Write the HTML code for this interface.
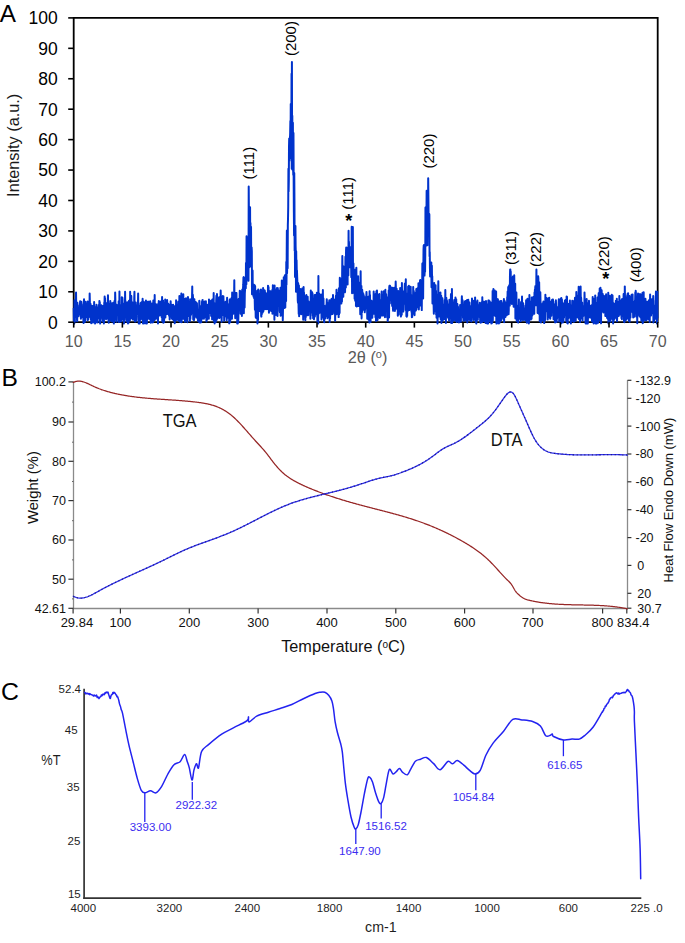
<!DOCTYPE html>
<html><head><meta charset="utf-8"><style>
html,body{margin:0;padding:0;background:#fff;overflow:hidden;}
svg{display:block;font-family:"Liberation Sans",sans-serif;}
</style></head><body>
<svg width="685" height="943" viewBox="0 0 685 943">
<rect width="685" height="943" fill="#fff"/>
<path d="M73.7,17.9 L657.7,17.9 L657.7,322.2 L73.7,322.2 Z" fill="none" stroke="#000" stroke-width="1.8"/>
<path d="M73.70,307.86 L73.89,320.51 L74.09,323.41 L74.28,323.57 L74.48,300.33 L74.67,318.57 L74.87,321.52 L75.06,308.40 L75.26,317.12 L75.45,301.26 L75.65,307.94 L75.84,302.89 L76.04,292.45 L76.23,306.35 L76.43,312.99 L76.62,313.78 L76.81,304.92 L77.01,319.32 L77.20,321.29 L77.40,302.75 L77.59,314.42 L77.79,310.92 L77.98,313.75 L78.18,307.93 L78.37,308.03 L78.57,316.23 L78.76,307.78 L78.96,314.88 L79.15,310.82 L79.35,312.27 L79.54,305.24 L79.73,313.68 L79.93,304.82 L80.12,301.18 L80.32,310.04 L80.51,304.28 L80.71,302.82 L80.90,318.75 L81.10,313.17 L81.29,301.82 L81.49,305.69 L81.68,304.13 L81.88,309.89 L82.07,314.19 L82.27,306.35 L82.46,315.03 L82.65,310.44 L82.85,317.44 L83.04,314.10 L83.24,313.15 L83.43,321.47 L83.63,323.08 L83.82,301.89 L84.02,299.22 L84.21,321.39 L84.41,315.18 L84.60,307.89 L84.80,319.94 L84.99,321.85 L85.19,303.39 L85.38,316.91 L85.57,301.76 L85.77,311.54 L85.96,309.92 L86.16,311.05 L86.35,311.79 L86.55,317.11 L86.74,308.92 L86.94,313.46 L87.13,303.52 L87.33,317.46 L87.52,320.23 L87.72,301.42 L87.91,311.01 L88.11,319.66 L88.30,304.29 L88.49,317.68 L88.69,306.32 L88.88,307.83 L89.08,316.83 L89.27,308.84 L89.47,312.24 L89.66,293.47 L89.86,301.69 L90.05,316.74 L90.25,314.46 L90.44,303.65 L90.64,307.05 L90.83,319.55 L91.03,309.04 L91.22,323.21 L91.41,305.54 L91.61,309.04 L91.80,307.62 L92.00,310.25 L92.19,315.28 L92.39,308.12 L92.58,312.94 L92.78,305.97 L92.97,322.44 L93.17,317.10 L93.36,319.71 L93.56,311.73 L93.75,309.54 L93.95,318.05 L94.14,301.96 L94.33,314.57 L94.53,322.38 L94.72,306.94 L94.92,321.69 L95.11,323.57 L95.31,317.60 L95.50,312.69 L95.70,318.53 L95.89,317.09 L96.09,322.14 L96.28,315.71 L96.48,304.76 L96.67,316.35 L96.87,310.04 L97.06,319.15 L97.25,320.75 L97.45,315.89 L97.64,322.53 L97.84,312.61 L98.03,307.17 L98.23,313.90 L98.42,318.12 L98.62,315.66 L98.81,304.98 L99.01,317.08 L99.20,315.41 L99.40,300.88 L99.59,317.51 L99.79,302.19 L99.98,320.66 L100.17,323.57 L100.37,313.89 L100.56,310.90 L100.76,310.23 L100.95,315.99 L101.15,306.19 L101.34,305.24 L101.54,312.19 L101.73,306.12 L101.93,306.85 L102.12,317.60 L102.32,318.59 L102.51,319.74 L102.71,321.28 L102.90,305.90 L103.09,314.40 L103.29,320.40 L103.48,310.64 L103.68,317.89 L103.87,323.57 L104.07,314.44 L104.26,302.52 L104.46,305.75 L104.65,296.49 L104.85,312.72 L105.04,298.35 L105.24,315.17 L105.43,312.19 L105.63,306.13 L105.82,312.88 L106.01,319.24 L106.21,307.62 L106.40,303.33 L106.60,315.04 L106.79,313.78 L106.99,316.52 L107.18,307.39 L107.38,312.14 L107.57,318.49 L107.77,302.32 L107.96,295.35 L108.16,304.29 L108.35,303.49 L108.55,320.56 L108.74,322.68 L108.93,308.75 L109.13,310.19 L109.32,318.99 L109.52,313.32 L109.71,320.29 L109.91,313.61 L110.10,311.46 L110.30,301.03 L110.49,314.45 L110.69,319.10 L110.88,303.05 L111.08,309.15 L111.27,318.59 L111.47,321.22 L111.66,314.39 L111.85,317.66 L112.05,314.77 L112.24,316.37 L112.44,303.22 L112.63,304.97 L112.83,307.71 L113.02,321.37 L113.22,304.37 L113.41,314.58 L113.61,302.60 L113.80,323.57 L114.00,321.65 L114.19,321.21 L114.39,303.92 L114.58,300.84 L114.77,306.54 L114.97,316.22 L115.16,292.55 L115.36,300.25 L115.55,319.79 L115.75,303.93 L115.94,312.64 L116.14,315.94 L116.33,314.30 L116.53,321.64 L116.72,320.03 L116.92,305.10 L117.11,312.82 L117.31,309.24 L117.50,314.37 L117.69,312.19 L117.89,307.72 L118.08,309.14 L118.28,313.87 L118.47,312.79 L118.67,301.19 L118.86,322.04 L119.06,314.27 L119.25,321.31 L119.45,291.49 L119.64,321.82 L119.84,305.88 L120.03,312.82 L120.23,311.02 L120.42,316.12 L120.61,314.12 L120.81,312.89 L121.00,304.93 L121.20,321.39 L121.39,318.96 L121.59,319.81 L121.78,297.27 L121.98,312.58 L122.17,306.63 L122.37,297.58 L122.56,299.81 L122.76,319.60 L122.95,314.80 L123.15,311.04 L123.34,303.52 L123.53,311.59 L123.73,321.74 L123.92,323.57 L124.12,316.67 L124.31,309.22 L124.51,320.00 L124.70,313.12 L124.90,314.70 L125.09,291.74 L125.29,307.22 L125.48,301.06 L125.68,311.53 L125.87,312.14 L126.07,302.50 L126.26,313.69 L126.45,310.84 L126.65,321.48 L126.84,318.50 L127.04,316.48 L127.23,317.33 L127.43,313.36 L127.62,302.14 L127.82,319.55 L128.01,323.57 L128.21,310.31 L128.40,315.30 L128.60,322.69 L128.79,305.44 L128.99,300.70 L129.18,306.08 L129.37,304.71 L129.57,305.95 L129.76,301.00 L129.96,320.35 L130.15,291.87 L130.35,307.76 L130.54,302.07 L130.74,304.42 L130.93,310.93 L131.13,308.84 L131.32,295.90 L131.52,315.22 L131.71,318.28 L131.91,313.93 L132.10,304.33 L132.29,315.49 L132.49,302.49 L132.68,319.43 L132.88,308.22 L133.07,318.03 L133.27,308.81 L133.46,305.35 L133.66,304.94 L133.85,306.15 L134.05,319.38 L134.24,298.26 L134.44,291.78 L134.63,311.78 L134.83,321.37 L135.02,313.42 L135.21,307.87 L135.41,321.47 L135.60,309.64 L135.80,302.46 L135.99,311.37 L136.19,316.35 L136.38,320.19 L136.58,312.83 L136.77,314.53 L136.97,307.57 L137.16,306.37 L137.36,307.21 L137.55,305.23 L137.75,305.01 L137.94,306.65 L138.13,293.49 L138.33,309.82 L138.52,315.05 L138.72,323.57 L138.91,308.00 L139.11,321.80 L139.30,306.74 L139.50,310.91 L139.69,323.42 L139.89,313.97 L140.08,310.77 L140.28,317.55 L140.47,304.04 L140.67,302.91 L140.86,319.50 L141.05,307.88 L141.25,313.38 L141.44,304.75 L141.64,302.02 L141.83,311.92 L142.03,308.77 L142.22,314.98 L142.42,307.91 L142.61,298.79 L142.81,316.49 L143.00,323.57 L143.20,301.51 L143.39,323.57 L143.59,307.01 L143.78,309.79 L143.97,314.28 L144.17,302.22 L144.36,319.14 L144.56,317.40 L144.75,304.32 L144.95,323.19 L145.14,317.47 L145.34,319.22 L145.53,313.71 L145.73,306.65 L145.92,300.57 L146.12,318.35 L146.31,323.57 L146.51,306.14 L146.70,301.50 L146.89,323.57 L147.09,308.92 L147.28,309.41 L147.48,310.53 L147.67,308.92 L147.87,317.33 L148.06,301.87 L148.26,318.64 L148.45,301.82 L148.65,302.56 L148.84,305.25 L149.04,314.50 L149.23,302.61 L149.43,317.97 L149.62,312.09 L149.81,311.82 L150.01,319.46 L150.20,301.16 L150.40,319.63 L150.59,312.38 L150.79,322.71 L150.98,317.61 L151.18,303.42 L151.37,307.28 L151.57,315.46 L151.76,308.22 L151.96,319.43 L152.15,308.38 L152.35,303.15 L152.54,322.59 L152.73,316.37 L152.93,317.60 L153.12,322.14 L153.32,300.54 L153.51,306.58 L153.71,308.65 L153.90,308.89 L154.10,307.32 L154.29,318.02 L154.49,319.91 L154.68,295.04 L154.88,319.54 L155.07,317.83 L155.27,305.98 L155.46,315.29 L155.65,313.93 L155.85,307.89 L156.04,304.15 L156.24,318.38 L156.43,310.41 L156.63,313.69 L156.82,318.18 L157.02,315.66 L157.21,305.09 L157.41,317.31 L157.60,310.51 L157.80,312.95 L157.99,323.55 L158.19,303.95 L158.38,303.58 L158.57,305.05 L158.77,301.12 L158.96,313.29 L159.16,308.27 L159.35,301.87 L159.55,311.92 L159.74,315.56 L159.94,312.41 L160.13,310.30 L160.33,308.85 L160.52,301.73 L160.72,310.14 L160.91,304.12 L161.11,312.58 L161.30,313.10 L161.49,301.22 L161.69,317.27 L161.88,316.89 L162.08,296.98 L162.27,321.22 L162.47,320.08 L162.66,311.51 L162.86,308.37 L163.05,300.42 L163.25,321.10 L163.44,322.78 L163.64,308.14 L163.83,302.72 L164.03,322.18 L164.22,317.08 L164.41,307.63 L164.61,308.58 L164.80,303.97 L165.00,308.18 L165.19,299.54 L165.39,317.47 L165.58,305.78 L165.78,309.49 L165.97,314.45 L166.17,306.75 L166.36,302.74 L166.56,310.00 L166.75,306.85 L166.95,313.87 L167.14,299.89 L167.33,314.08 L167.53,309.45 L167.72,309.97 L167.92,311.65 L168.11,303.51 L168.31,308.24 L168.50,310.20 L168.70,307.47 L168.89,307.61 L169.09,315.78 L169.28,316.09 L169.48,309.25 L169.67,319.48 L169.87,304.59 L170.06,305.44 L170.25,308.45 L170.45,316.03 L170.64,301.24 L170.84,306.86 L171.03,304.57 L171.23,307.00 L171.42,310.62 L171.62,316.02 L171.81,318.42 L172.01,305.11 L172.20,309.07 L172.40,318.49 L172.59,319.38 L172.79,312.15 L172.98,308.35 L173.17,304.85 L173.37,312.31 L173.56,317.79 L173.76,307.22 L173.95,320.42 L174.15,319.48 L174.34,314.55 L174.54,310.33 L174.73,323.17 L174.93,320.51 L175.12,306.08 L175.32,313.70 L175.51,312.85 L175.71,312.24 L175.90,319.17 L176.09,300.34 L176.29,301.88 L176.48,308.61 L176.68,320.03 L176.87,307.33 L177.07,304.68 L177.26,314.84 L177.46,319.37 L177.65,306.25 L177.85,308.15 L178.04,313.77 L178.24,315.60 L178.43,301.47 L178.63,320.85 L178.82,315.38 L179.01,311.37 L179.21,308.80 L179.40,296.10 L179.60,308.49 L179.79,320.61 L179.99,309.77 L180.18,321.95 L180.38,313.64 L180.57,303.99 L180.77,319.53 L180.96,320.26 L181.16,297.79 L181.35,293.60 L181.55,322.35 L181.74,311.98 L181.93,316.24 L182.13,300.82 L182.32,300.49 L182.52,303.43 L182.71,305.26 L182.91,307.84 L183.10,318.81 L183.30,294.24 L183.49,311.30 L183.69,312.85 L183.88,308.09 L184.08,314.02 L184.27,298.84 L184.47,306.87 L184.66,302.55 L184.85,319.95 L185.05,321.82 L185.24,317.98 L185.44,317.65 L185.63,307.38 L185.83,304.96 L186.02,298.20 L186.22,319.20 L186.41,308.81 L186.61,304.73 L186.80,311.08 L187.00,320.76 L187.19,320.21 L187.39,322.24 L187.58,313.43 L187.77,316.52 L187.97,297.07 L188.16,305.93 L188.36,315.58 L188.55,305.94 L188.75,308.90 L188.94,301.88 L189.14,316.08 L189.33,312.95 L189.53,309.46 L189.72,308.93 L189.92,321.04 L190.11,299.28 L190.31,319.03 L190.50,310.58 L190.69,307.76 L190.89,311.36 L191.08,314.65 L191.28,303.34 L191.47,309.13 L191.67,304.28 L191.86,302.21 L192.06,296.89 L192.25,286.45 L192.45,312.74 L192.64,297.37 L192.84,294.68 L193.03,298.30 L193.23,319.38 L193.42,298.88 L193.61,306.44 L193.81,309.98 L194.00,320.16 L194.20,318.25 L194.39,299.23 L194.59,314.48 L194.78,311.36 L194.98,312.45 L195.17,313.24 L195.37,312.52 L195.56,315.96 L195.76,302.08 L195.95,310.69 L196.15,315.95 L196.34,317.49 L196.53,303.78 L196.73,304.23 L196.92,303.32 L197.12,309.01 L197.31,315.34 L197.51,318.24 L197.70,314.22 L197.90,320.72 L198.09,316.37 L198.29,315.25 L198.48,321.05 L198.68,320.42 L198.87,321.76 L199.07,314.00 L199.26,301.00 L199.45,300.90 L199.65,319.83 L199.84,309.07 L200.04,322.62 L200.23,307.10 L200.43,308.34 L200.62,310.85 L200.82,315.78 L201.01,311.94 L201.21,322.27 L201.40,308.05 L201.60,305.38 L201.79,318.04 L201.99,301.71 L202.18,318.65 L202.37,300.29 L202.57,299.94 L202.76,312.76 L202.96,302.68 L203.15,309.42 L203.35,316.41 L203.54,306.37 L203.74,313.96 L203.93,318.67 L204.13,304.54 L204.32,317.63 L204.52,301.52 L204.71,316.65 L204.91,314.36 L205.10,304.41 L205.29,304.25 L205.49,312.73 L205.68,308.09 L205.88,301.30 L206.07,315.76 L206.27,316.90 L206.46,321.53 L206.66,305.50 L206.85,305.08 L207.05,319.62 L207.24,304.90 L207.44,316.27 L207.63,309.94 L207.83,308.67 L208.02,308.04 L208.21,308.74 L208.41,312.94 L208.60,304.02 L208.80,318.78 L208.99,299.56 L209.19,313.45 L209.38,301.35 L209.58,306.57 L209.77,311.50 L209.97,310.62 L210.16,309.04 L210.36,312.32 L210.55,307.87 L210.75,310.30 L210.94,300.68 L211.13,315.87 L211.33,303.91 L211.52,311.45 L211.72,301.62 L211.91,301.88 L212.11,319.37 L212.30,299.41 L212.50,301.30 L212.69,305.38 L212.89,318.01 L213.08,298.91 L213.28,306.29 L213.47,316.70 L213.67,293.11 L213.86,321.10 L214.05,303.03 L214.25,318.56 L214.44,314.94 L214.64,323.57 L214.83,312.65 L215.03,305.26 L215.22,303.60 L215.42,311.44 L215.61,315.33 L215.81,321.88 L216.00,313.32 L216.20,300.82 L216.39,295.86 L216.59,297.13 L216.78,319.66 L216.97,294.00 L217.17,311.81 L217.36,307.04 L217.56,317.89 L217.75,317.88 L217.95,301.13 L218.14,297.70 L218.34,309.69 L218.53,301.21 L218.73,303.11 L218.92,302.11 L219.12,310.01 L219.31,297.28 L219.51,318.05 L219.70,314.59 L219.89,304.49 L220.09,314.39 L220.28,298.96 L220.48,299.81 L220.67,290.61 L220.87,298.12 L221.06,304.53 L221.26,316.34 L221.45,312.56 L221.65,321.67 L221.84,310.62 L222.04,304.12 L222.23,302.86 L222.43,301.77 L222.62,314.38 L222.81,296.05 L223.01,306.59 L223.20,314.88 L223.40,296.29 L223.59,302.78 L223.79,302.34 L223.98,304.83 L224.18,320.69 L224.37,306.54 L224.57,302.92 L224.76,304.18 L224.96,312.71 L225.15,308.07 L225.35,303.95 L225.54,301.78 L225.73,312.92 L225.93,306.04 L226.12,316.72 L226.32,315.57 L226.51,311.02 L226.71,320.29 L226.90,311.23 L227.10,297.70 L227.29,312.43 L227.49,316.42 L227.68,317.87 L227.88,306.31 L228.07,309.93 L228.27,304.56 L228.46,310.07 L228.65,306.90 L228.85,310.08 L229.04,313.85 L229.24,323.37 L229.43,314.55 L229.63,300.03 L229.82,312.28 L230.02,299.13 L230.21,321.92 L230.41,302.32 L230.60,300.37 L230.80,312.83 L230.99,310.21 L231.19,312.69 L231.38,309.23 L231.57,297.95 L231.77,302.50 L231.96,318.68 L232.16,292.41 L232.35,302.29 L232.55,299.85 L232.74,299.80 L232.94,296.78 L233.13,299.91 L233.33,313.83 L233.52,300.69 L233.72,303.07 L233.91,310.09 L234.11,295.58 L234.30,280.15 L234.49,307.50 L234.69,296.53 L234.88,306.76 L235.08,310.75 L235.27,318.26 L235.47,316.11 L235.66,314.40 L235.86,292.97 L236.05,305.95 L236.25,314.20 L236.44,292.89 L236.64,303.00 L236.83,315.53 L237.03,301.47 L237.22,323.57 L237.41,306.46 L237.61,306.33 L237.80,323.57 L238.00,301.32 L238.19,322.53 L238.39,317.49 L238.58,299.07 L238.78,309.85 L238.97,301.11 L239.17,305.93 L239.36,307.51 L239.56,304.69 L239.75,290.67 L239.95,292.90 L240.14,297.53 L240.33,301.71 L240.53,313.69 L240.72,300.02 L240.92,291.48 L241.11,293.97 L241.31,299.98 L241.50,303.86 L241.70,299.60 L241.89,315.94 L242.09,305.55 L242.28,289.42 L242.48,307.25 L242.67,309.92 L242.87,300.16 L243.06,287.81 L243.25,284.43 L243.45,277.46 L243.64,277.12 L243.84,313.35 L244.03,296.30 L244.23,289.97 L244.42,283.01 L244.62,307.43 L244.81,293.12 L245.01,290.54 L245.20,277.66 L245.40,285.28 L245.59,284.86 L245.79,288.24 L245.98,262.97 L246.17,278.77 L246.37,284.27 L246.56,236.27 L246.76,265.89 L246.95,269.50 L247.15,279.40 L247.34,248.04 L247.54,258.20 L247.73,237.84 L247.93,255.43 L248.12,241.84 L248.32,273.91 L248.51,280.85 L248.71,186.48 L248.90,209.72 L249.09,243.34 L249.29,267.35 L249.48,223.17 L249.68,230.70 L249.87,231.89 L250.07,207.29 L250.26,256.25 L250.46,222.91 L250.65,256.76 L250.85,226.60 L251.04,227.17 L251.24,266.84 L251.43,265.16 L251.63,247.40 L251.82,251.58 L252.01,294.27 L252.21,276.78 L252.40,294.43 L252.60,270.53 L252.79,293.22 L252.99,292.19 L253.18,293.79 L253.38,285.06 L253.57,296.77 L253.77,295.50 L253.96,284.84 L254.16,298.25 L254.35,285.69 L254.55,285.23 L254.74,301.16 L254.93,309.79 L255.13,286.05 L255.32,299.87 L255.52,307.34 L255.71,317.35 L255.91,304.26 L256.10,317.99 L256.30,299.56 L256.49,307.75 L256.69,311.99 L256.88,315.76 L257.08,295.33 L257.27,290.66 L257.47,323.47 L257.66,304.00 L257.85,318.93 L258.05,320.02 L258.24,289.57 L258.44,311.43 L258.63,304.01 L258.83,290.33 L259.02,300.01 L259.22,311.12 L259.41,297.42 L259.61,293.82 L259.80,299.54 L260.00,309.18 L260.19,295.89 L260.39,309.64 L260.58,309.93 L260.77,312.03 L260.97,289.48 L261.16,315.84 L261.36,316.65 L261.55,309.85 L261.75,314.51 L261.94,308.11 L262.14,293.17 L262.33,290.87 L262.53,312.56 L262.72,310.96 L262.92,307.34 L263.11,288.04 L263.31,311.43 L263.50,295.36 L263.69,299.31 L263.89,292.94 L264.08,309.41 L264.28,293.69 L264.47,290.22 L264.67,306.25 L264.86,290.84 L265.06,297.58 L265.25,308.53 L265.45,304.30 L265.64,308.88 L265.84,293.11 L266.03,309.26 L266.23,294.17 L266.42,307.15 L266.61,293.98 L266.81,294.62 L267.00,295.88 L267.20,309.07 L267.39,294.98 L267.59,298.11 L267.78,307.32 L267.98,285.70 L268.17,286.21 L268.37,296.61 L268.56,287.14 L268.76,307.99 L268.95,312.83 L269.15,307.44 L269.34,299.79 L269.53,291.35 L269.73,291.33 L269.92,309.90 L270.12,292.09 L270.31,291.14 L270.51,299.65 L270.70,301.81 L270.90,302.43 L271.09,310.90 L271.29,308.43 L271.48,301.49 L271.68,301.32 L271.87,300.72 L272.07,303.69 L272.26,290.05 L272.45,313.64 L272.65,313.62 L272.84,285.37 L273.04,298.55 L273.23,297.31 L273.43,302.87 L273.62,304.06 L273.82,307.13 L274.01,300.54 L274.21,288.00 L274.40,319.85 L274.60,285.53 L274.79,312.35 L274.99,302.43 L275.18,290.03 L275.37,315.08 L275.57,297.66 L275.76,299.29 L275.96,300.70 L276.15,292.21 L276.35,314.31 L276.54,311.41 L276.74,288.99 L276.93,288.11 L277.13,315.44 L277.32,296.79 L277.52,316.02 L277.71,287.97 L277.91,289.31 L278.10,296.58 L278.29,303.08 L278.49,297.82 L278.68,300.67 L278.88,292.34 L279.07,292.16 L279.27,291.20 L279.46,290.87 L279.66,310.72 L279.85,312.24 L280.05,296.43 L280.24,300.67 L280.44,287.77 L280.63,315.72 L280.83,304.97 L281.02,289.15 L281.21,303.68 L281.41,315.15 L281.60,309.21 L281.80,280.51 L281.99,288.95 L282.19,286.09 L282.38,310.29 L282.58,287.81 L282.77,320.23 L282.97,310.55 L283.16,294.74 L283.36,292.54 L283.55,299.53 L283.75,277.25 L283.94,302.59 L284.13,306.51 L284.33,307.97 L284.52,281.51 L284.72,276.11 L284.91,275.31 L285.11,283.19 L285.30,307.39 L285.50,288.47 L285.69,296.33 L285.89,290.23 L286.08,301.14 L286.28,261.88 L286.47,284.72 L286.67,261.01 L286.86,230.56 L287.05,273.14 L287.25,264.81 L287.44,259.93 L287.64,268.14 L287.83,224.90 L288.03,218.53 L288.22,206.67 L288.42,168.65 L288.61,191.54 L288.81,180.14 L289.00,146.64 L289.20,138.60 L289.39,160.69 L289.59,144.38 L289.78,158.37 L289.97,138.28 L290.17,132.67 L290.36,120.94 L290.56,151.35 L290.75,104.04 L290.95,138.15 L291.14,135.07 L291.34,136.87 L291.53,73.79 L291.73,168.69 L291.92,62.02 L292.12,163.75 L292.31,115.75 L292.51,169.84 L292.70,128.47 L292.89,122.66 L293.09,168.79 L293.28,174.92 L293.48,133.06 L293.67,180.16 L293.87,212.36 L294.06,235.59 L294.26,173.03 L294.45,200.83 L294.65,250.65 L294.84,236.66 L295.04,277.06 L295.23,227.58 L295.43,226.10 L295.62,246.09 L295.81,253.17 L296.01,291.82 L296.20,251.14 L296.40,272.54 L296.59,260.30 L296.79,272.79 L296.98,270.51 L297.18,277.19 L297.37,282.31 L297.57,288.32 L297.76,300.40 L297.96,302.61 L298.15,283.06 L298.35,285.79 L298.54,306.26 L298.73,313.92 L298.93,285.55 L299.12,316.36 L299.32,296.23 L299.51,294.29 L299.71,303.75 L299.90,289.37 L300.10,297.82 L300.29,288.90 L300.49,297.17 L300.68,301.51 L300.88,314.08 L301.07,293.75 L301.27,314.22 L301.46,309.44 L301.65,299.78 L301.85,299.08 L302.04,290.82 L302.24,288.56 L302.43,289.20 L302.63,293.46 L302.82,309.53 L303.02,295.69 L303.21,319.66 L303.41,312.70 L303.60,287.10 L303.80,301.07 L303.99,292.62 L304.19,315.67 L304.38,302.83 L304.57,314.31 L304.77,300.94 L304.96,296.00 L305.16,307.50 L305.35,320.19 L305.55,310.59 L305.74,317.29 L305.94,307.15 L306.13,299.00 L306.33,294.99 L306.52,311.48 L306.72,314.13 L306.91,315.34 L307.11,310.62 L307.30,311.07 L307.49,313.86 L307.69,296.71 L307.88,311.79 L308.08,314.90 L308.27,315.09 L308.47,301.37 L308.66,308.08 L308.86,309.29 L309.05,302.73 L309.25,304.02 L309.44,307.28 L309.64,304.30 L309.83,310.71 L310.03,308.39 L310.22,301.92 L310.41,318.79 L310.61,309.36 L310.80,290.42 L311.00,312.16 L311.19,306.72 L311.39,300.97 L311.58,300.12 L311.78,299.20 L311.97,303.54 L312.17,292.31 L312.36,312.93 L312.56,293.78 L312.75,315.83 L312.95,305.38 L313.14,318.28 L313.33,298.43 L313.53,317.01 L313.72,309.09 L313.92,319.29 L314.11,317.36 L314.31,308.18 L314.50,306.47 L314.70,295.07 L314.89,316.57 L315.09,296.00 L315.28,314.92 L315.48,310.41 L315.67,294.89 L315.87,307.17 L316.06,314.15 L316.25,309.01 L316.45,298.26 L316.64,297.33 L316.84,292.80 L317.03,307.35 L317.23,311.71 L317.42,321.99 L317.62,309.94 L317.81,314.48 L318.01,300.19 L318.20,323.57 L318.40,275.90 L318.59,314.03 L318.79,310.95 L318.98,310.43 L319.17,293.45 L319.37,302.65 L319.56,311.73 L319.76,312.66 L319.95,309.92 L320.15,299.93 L320.34,306.54 L320.54,299.38 L320.73,296.27 L320.93,308.30 L321.12,294.39 L321.32,300.80 L321.51,319.41 L321.71,311.54 L321.90,299.05 L322.09,306.13 L322.29,317.62 L322.48,310.94 L322.68,309.11 L322.87,289.96 L323.07,311.09 L323.26,309.86 L323.46,298.61 L323.65,308.85 L323.85,308.62 L324.04,321.03 L324.24,322.18 L324.43,310.44 L324.63,306.30 L324.82,316.91 L325.01,307.73 L325.21,318.53 L325.40,315.38 L325.60,309.08 L325.79,314.63 L325.99,311.03 L326.18,305.15 L326.38,316.00 L326.57,306.11 L326.77,299.35 L326.96,303.96 L327.16,312.09 L327.35,307.09 L327.55,318.14 L327.74,303.89 L327.93,303.26 L328.13,316.76 L328.32,312.55 L328.52,306.88 L328.71,305.43 L328.91,306.29 L329.10,302.58 L329.30,300.21 L329.49,310.49 L329.69,321.99 L329.88,301.92 L330.08,318.74 L330.27,308.84 L330.47,305.12 L330.66,303.30 L330.85,308.78 L331.05,306.50 L331.24,299.25 L331.44,303.27 L331.63,314.18 L331.83,298.64 L332.02,304.47 L332.22,313.62 L332.41,314.04 L332.61,309.99 L332.80,308.36 L333.00,295.01 L333.19,309.32 L333.39,303.95 L333.58,311.31 L333.77,308.50 L333.97,311.39 L334.16,309.57 L334.36,303.06 L334.55,313.95 L334.75,307.19 L334.94,299.51 L335.14,320.75 L335.33,308.50 L335.53,298.97 L335.72,300.95 L335.92,295.84 L336.11,311.98 L336.31,301.55 L336.50,289.73 L336.69,314.35 L336.89,295.32 L337.08,308.79 L337.28,296.19 L337.47,295.38 L337.67,292.92 L337.86,307.71 L338.06,292.84 L338.25,309.10 L338.45,294.37 L338.64,317.12 L338.84,288.33 L339.03,314.50 L339.23,290.46 L339.42,292.36 L339.61,313.11 L339.81,277.69 L340.00,288.26 L340.20,284.72 L340.39,279.10 L340.59,300.88 L340.78,294.68 L340.98,296.16 L341.17,284.26 L341.37,303.54 L341.56,286.02 L341.76,300.54 L341.95,301.42 L342.15,273.75 L342.34,255.98 L342.53,272.59 L342.73,277.69 L342.92,271.39 L343.12,282.88 L343.31,296.85 L343.51,266.48 L343.70,286.56 L343.90,269.61 L344.09,286.76 L344.29,276.58 L344.48,284.28 L344.68,269.21 L344.87,292.34 L345.07,291.71 L345.26,274.53 L345.45,256.79 L345.65,272.82 L345.84,287.55 L346.04,250.51 L346.23,247.40 L346.43,275.59 L346.62,265.16 L346.82,277.43 L347.01,258.70 L347.21,269.70 L347.40,253.48 L347.60,284.50 L347.79,250.46 L347.99,247.42 L348.18,275.05 L348.37,275.25 L348.57,230.64 L348.76,267.02 L348.96,241.70 L349.15,261.10 L349.35,262.24 L349.54,252.24 L349.74,257.51 L349.93,256.71 L350.13,267.35 L350.32,263.98 L350.52,247.28 L350.71,247.52 L350.91,260.01 L351.10,261.52 L351.29,277.14 L351.49,268.33 L351.68,226.65 L351.88,235.20 L352.07,293.18 L352.27,283.96 L352.46,282.40 L352.66,272.59 L352.85,226.89 L353.05,290.14 L353.24,267.02 L353.44,263.46 L353.63,289.18 L353.83,290.52 L354.02,293.25 L354.21,272.27 L354.41,282.23 L354.60,298.68 L354.80,296.15 L354.99,286.95 L355.19,300.80 L355.38,269.47 L355.58,296.55 L355.77,270.30 L355.97,305.92 L356.16,293.58 L356.36,267.64 L356.55,302.08 L356.75,306.45 L356.94,276.48 L357.13,278.38 L357.33,290.87 L357.52,305.59 L357.72,299.38 L357.91,294.85 L358.11,276.20 L358.30,306.12 L358.50,288.35 L358.69,287.75 L358.89,282.43 L359.08,290.77 L359.28,302.10 L359.47,299.91 L359.67,299.34 L359.86,296.42 L360.05,298.57 L360.25,314.15 L360.44,290.90 L360.64,271.15 L360.83,297.47 L361.03,307.91 L361.22,303.87 L361.42,285.95 L361.61,318.38 L361.81,299.18 L362.00,312.36 L362.20,289.87 L362.39,293.04 L362.59,292.56 L362.78,292.93 L362.97,309.86 L363.17,305.01 L363.36,293.88 L363.56,306.32 L363.75,295.36 L363.95,298.86 L364.14,306.40 L364.34,305.73 L364.53,305.98 L364.73,312.34 L364.92,310.46 L365.12,308.79 L365.31,306.00 L365.51,297.09 L365.70,307.53 L365.89,305.49 L366.09,301.09 L366.28,297.71 L366.48,291.88 L366.67,299.47 L366.87,304.21 L367.06,300.62 L367.26,318.85 L367.45,300.70 L367.65,315.59 L367.84,298.08 L368.04,298.50 L368.23,304.41 L368.43,296.75 L368.62,319.86 L368.81,319.65 L369.01,307.77 L369.20,316.66 L369.40,322.45 L369.59,291.26 L369.79,310.44 L369.98,295.08 L370.18,315.17 L370.37,302.74 L370.57,321.93 L370.76,303.54 L370.96,300.54 L371.15,303.81 L371.35,307.96 L371.54,300.84 L371.73,314.63 L371.93,302.93 L372.12,312.59 L372.32,317.74 L372.51,310.13 L372.71,302.19 L372.90,313.39 L373.10,302.09 L373.29,309.45 L373.49,307.12 L373.68,291.59 L373.88,313.87 L374.07,303.58 L374.27,298.03 L374.46,312.21 L374.65,301.97 L374.85,296.76 L375.04,297.50 L375.24,294.23 L375.43,317.33 L375.63,301.08 L375.82,313.12 L376.02,321.07 L376.21,306.30 L376.41,291.20 L376.60,310.88 L376.80,313.56 L376.99,290.57 L377.19,300.99 L377.38,316.16 L377.57,319.90 L377.77,317.19 L377.96,317.49 L378.16,295.20 L378.35,300.35 L378.55,312.98 L378.74,307.02 L378.94,306.66 L379.13,296.89 L379.33,293.93 L379.52,317.29 L379.72,317.97 L379.91,302.15 L380.11,317.65 L380.30,307.69 L380.49,300.65 L380.69,304.36 L380.88,314.70 L381.08,311.51 L381.27,303.50 L381.47,315.59 L381.66,291.51 L381.86,312.19 L382.05,295.02 L382.25,313.08 L382.44,304.33 L382.64,295.29 L382.83,299.28 L383.03,315.62 L383.22,312.59 L383.41,307.42 L383.61,303.76 L383.80,291.13 L384.00,307.47 L384.19,307.39 L384.39,302.56 L384.58,311.14 L384.78,295.15 L384.97,317.33 L385.17,295.95 L385.36,289.70 L385.56,308.92 L385.75,293.46 L385.95,295.94 L386.14,294.39 L386.33,297.67 L386.53,301.30 L386.72,310.38 L386.92,305.41 L387.11,317.31 L387.31,297.83 L387.50,302.11 L387.70,321.11 L387.89,319.04 L388.09,309.49 L388.28,315.45 L388.48,315.24 L388.67,290.60 L388.87,308.89 L389.06,317.38 L389.25,287.26 L389.45,285.85 L389.64,291.08 L389.84,303.59 L390.03,285.82 L390.23,289.28 L390.42,296.57 L390.62,294.45 L390.81,294.08 L391.01,300.12 L391.20,287.57 L391.40,289.11 L391.59,293.56 L391.79,294.47 L391.98,302.55 L392.17,306.00 L392.37,287.79 L392.56,299.04 L392.76,289.40 L392.95,309.46 L393.15,310.73 L393.34,293.49 L393.54,295.66 L393.73,304.09 L393.93,300.54 L394.12,287.86 L394.32,294.91 L394.51,299.30 L394.71,308.98 L394.90,310.96 L395.09,305.17 L395.29,308.02 L395.48,293.20 L395.68,281.51 L395.87,287.90 L396.07,308.78 L396.26,307.90 L396.46,297.03 L396.65,288.69 L396.85,306.98 L397.04,307.64 L397.24,301.31 L397.43,291.70 L397.63,302.03 L397.82,315.71 L398.01,295.53 L398.21,291.11 L398.40,295.04 L398.60,314.44 L398.79,306.75 L398.99,299.89 L399.18,300.56 L399.38,310.38 L399.57,306.25 L399.77,303.21 L399.96,300.34 L400.16,287.96 L400.35,294.68 L400.55,299.59 L400.74,315.39 L400.93,316.52 L401.13,290.76 L401.32,298.06 L401.52,294.18 L401.71,314.75 L401.91,282.96 L402.10,299.96 L402.30,298.09 L402.49,295.09 L402.69,296.87 L402.88,292.13 L403.08,309.21 L403.27,311.61 L403.47,302.56 L403.66,291.19 L403.85,291.99 L404.05,303.82 L404.24,292.40 L404.44,291.47 L404.63,290.28 L404.83,283.51 L405.02,302.00 L405.22,292.53 L405.41,284.50 L405.61,310.06 L405.80,279.33 L406.00,307.78 L406.19,293.84 L406.39,316.28 L406.58,313.41 L406.77,316.65 L406.97,295.57 L407.16,315.90 L407.36,301.36 L407.55,293.42 L407.75,307.94 L407.94,310.01 L408.14,286.58 L408.33,310.56 L408.53,298.03 L408.72,302.43 L408.92,285.84 L409.11,295.91 L409.31,301.68 L409.50,310.06 L409.69,288.27 L409.89,307.78 L410.08,290.56 L410.28,295.06 L410.47,299.58 L410.67,286.86 L410.86,296.83 L411.06,298.25 L411.25,294.96 L411.45,312.01 L411.64,303.17 L411.84,317.18 L412.03,313.32 L412.23,317.03 L412.42,298.87 L412.61,306.94 L412.81,311.48 L413.00,304.30 L413.20,286.89 L413.39,313.33 L413.59,312.61 L413.78,291.08 L413.98,309.88 L414.17,296.25 L414.37,314.69 L414.56,315.15 L414.76,297.83 L414.95,293.57 L415.15,310.95 L415.34,302.37 L415.53,309.95 L415.73,292.87 L415.92,310.41 L416.12,299.20 L416.31,288.95 L416.51,309.28 L416.70,294.70 L416.90,300.96 L417.09,290.52 L417.29,288.49 L417.48,300.56 L417.68,301.40 L417.87,290.97 L418.07,292.74 L418.26,306.93 L418.45,283.26 L418.65,299.58 L418.84,309.50 L419.04,302.76 L419.23,302.61 L419.43,298.82 L419.62,304.01 L419.82,299.43 L420.01,280.55 L420.21,279.97 L420.40,305.52 L420.60,303.82 L420.79,300.35 L420.99,304.49 L421.18,304.73 L421.37,293.95 L421.57,296.00 L421.76,310.12 L421.96,289.09 L422.15,289.88 L422.35,263.62 L422.54,266.16 L422.74,276.14 L422.93,280.30 L423.13,298.53 L423.32,269.58 L423.52,249.71 L423.71,245.66 L423.91,245.14 L424.10,252.40 L424.29,270.09 L424.49,275.61 L424.68,271.13 L424.88,257.34 L425.07,271.70 L425.27,255.27 L425.46,207.46 L425.66,218.92 L425.85,217.73 L426.05,245.75 L426.24,222.32 L426.44,219.81 L426.63,190.86 L426.83,203.64 L427.02,223.53 L427.21,230.45 L427.41,245.16 L427.60,210.09 L427.80,198.68 L427.99,220.86 L428.19,178.27 L428.38,196.00 L428.58,215.29 L428.77,232.36 L428.97,213.58 L429.16,213.80 L429.36,214.47 L429.55,256.21 L429.75,251.95 L429.94,268.10 L430.13,276.58 L430.33,267.63 L430.52,273.85 L430.72,274.87 L430.91,268.05 L431.11,275.70 L431.30,262.40 L431.50,287.35 L431.69,270.26 L431.89,265.68 L432.08,284.09 L432.28,276.28 L432.47,303.48 L432.67,297.62 L432.86,303.45 L433.05,293.32 L433.25,298.17 L433.44,296.18 L433.64,305.99 L433.83,313.71 L434.03,289.70 L434.22,283.01 L434.42,311.23 L434.61,292.14 L434.81,307.17 L435.00,293.13 L435.20,298.87 L435.39,293.57 L435.59,285.33 L435.78,311.06 L435.97,290.75 L436.17,314.66 L436.36,294.38 L436.56,317.84 L436.75,316.76 L436.95,307.96 L437.14,316.31 L437.34,294.44 L437.53,323.43 L437.73,311.61 L437.92,303.96 L438.12,297.02 L438.31,281.13 L438.51,305.78 L438.70,316.06 L438.89,314.74 L439.09,304.50 L439.28,316.52 L439.48,298.12 L439.67,298.34 L439.87,300.80 L440.06,292.77 L440.26,309.57 L440.45,292.55 L440.65,319.21 L440.84,317.20 L441.04,307.36 L441.23,295.66 L441.43,322.95 L441.62,297.76 L441.81,312.31 L442.01,298.25 L442.20,299.27 L442.40,298.26 L442.59,307.16 L442.79,320.40 L442.98,315.37 L443.18,313.36 L443.37,304.49 L443.57,314.17 L443.76,309.71 L443.96,313.35 L444.15,306.22 L444.35,318.97 L444.54,312.68 L444.73,300.05 L444.93,314.41 L445.12,310.08 L445.32,290.08 L445.51,304.80 L445.71,310.90 L445.90,322.98 L446.10,299.87 L446.29,297.74 L446.49,301.97 L446.68,302.94 L446.88,300.32 L447.07,301.95 L447.27,310.69 L447.46,311.81 L447.65,311.00 L447.85,316.50 L448.04,317.69 L448.24,305.44 L448.43,304.84 L448.63,306.12 L448.82,308.49 L449.02,320.38 L449.21,313.75 L449.41,299.81 L449.60,301.61 L449.80,314.33 L449.99,313.14 L450.19,318.09 L450.38,314.18 L450.57,311.95 L450.77,316.51 L450.96,293.97 L451.16,323.05 L451.35,312.50 L451.55,323.07 L451.74,315.10 L451.94,289.07 L452.13,323.00 L452.33,308.60 L452.52,308.93 L452.72,309.02 L452.91,310.89 L453.11,307.40 L453.30,317.65 L453.49,318.03 L453.69,302.81 L453.88,320.61 L454.08,301.55 L454.27,299.95 L454.47,309.11 L454.66,318.00 L454.86,313.11 L455.05,310.76 L455.25,305.39 L455.44,297.51 L455.64,313.31 L455.83,320.71 L456.03,317.06 L456.22,299.20 L456.41,318.75 L456.61,317.52 L456.80,322.09 L457.00,308.45 L457.19,311.97 L457.39,303.93 L457.58,307.83 L457.78,307.48 L457.97,306.69 L458.17,312.39 L458.36,316.78 L458.56,321.21 L458.75,313.41 L458.95,322.40 L459.14,317.82 L459.33,314.02 L459.53,310.89 L459.72,313.84 L459.92,317.46 L460.11,305.10 L460.31,316.00 L460.50,314.85 L460.70,318.15 L460.89,321.78 L461.09,305.15 L461.28,312.48 L461.48,310.20 L461.67,302.47 L461.87,296.26 L462.06,309.22 L462.25,299.47 L462.45,310.29 L462.64,300.62 L462.84,312.27 L463.03,318.02 L463.23,311.51 L463.42,320.76 L463.62,314.36 L463.81,317.30 L464.01,312.63 L464.20,320.61 L464.40,312.95 L464.59,310.07 L464.79,301.83 L464.98,301.31 L465.17,308.03 L465.37,312.67 L465.56,305.67 L465.76,301.10 L465.95,306.19 L466.15,320.51 L466.34,308.34 L466.54,311.60 L466.73,300.51 L466.93,307.26 L467.12,300.02 L467.32,322.47 L467.51,307.25 L467.71,317.83 L467.90,312.25 L468.09,303.69 L468.29,299.79 L468.48,317.99 L468.68,302.16 L468.87,319.84 L469.07,315.87 L469.26,316.85 L469.46,302.40 L469.65,318.83 L469.85,305.86 L470.04,311.15 L470.24,308.05 L470.43,320.64 L470.63,312.52 L470.82,310.17 L471.01,316.89 L471.21,307.83 L471.40,321.53 L471.60,321.21 L471.79,307.95 L471.99,298.50 L472.18,304.17 L472.38,310.14 L472.57,302.93 L472.77,304.33 L472.96,307.13 L473.16,300.78 L473.35,317.31 L473.55,310.30 L473.74,320.04 L473.93,307.35 L474.13,305.39 L474.32,303.01 L474.52,311.05 L474.71,303.24 L474.91,314.10 L475.10,297.38 L475.30,305.93 L475.49,301.85 L475.69,321.95 L475.88,311.44 L476.08,313.09 L476.27,323.57 L476.47,320.97 L476.66,303.56 L476.85,302.41 L477.05,310.11 L477.24,317.96 L477.44,300.50 L477.63,313.28 L477.83,319.71 L478.02,304.92 L478.22,307.20 L478.41,307.42 L478.61,314.28 L478.80,316.02 L479.00,316.79 L479.19,309.46 L479.39,315.69 L479.58,306.49 L479.77,302.83 L479.97,303.89 L480.16,322.11 L480.36,308.45 L480.55,322.70 L480.75,316.04 L480.94,315.85 L481.14,310.70 L481.33,320.85 L481.53,317.38 L481.72,302.21 L481.92,322.24 L482.11,314.96 L482.31,297.25 L482.50,320.84 L482.69,317.02 L482.89,308.62 L483.08,315.45 L483.28,310.31 L483.47,301.77 L483.67,321.07 L483.86,307.98 L484.06,321.17 L484.25,313.89 L484.45,307.20 L484.64,301.65 L484.84,312.38 L485.03,308.83 L485.23,311.96 L485.42,320.67 L485.61,323.04 L485.81,310.09 L486.00,300.93 L486.20,319.07 L486.39,304.11 L486.59,307.91 L486.78,316.34 L486.98,307.11 L487.17,323.57 L487.37,318.80 L487.56,315.03 L487.76,307.84 L487.95,323.57 L488.15,323.57 L488.34,300.39 L488.53,310.87 L488.73,301.97 L488.92,300.44 L489.12,319.17 L489.31,314.31 L489.51,301.07 L489.70,321.24 L489.90,301.75 L490.09,302.13 L490.29,306.58 L490.48,313.94 L490.68,308.40 L490.87,322.17 L491.07,314.96 L491.26,323.46 L491.45,313.28 L491.65,307.21 L491.84,323.34 L492.04,302.29 L492.23,322.42 L492.43,318.19 L492.62,290.90 L492.82,320.61 L493.01,304.85 L493.21,306.78 L493.40,289.04 L493.60,313.68 L493.79,308.76 L493.99,315.03 L494.18,306.84 L494.37,300.02 L494.57,303.95 L494.76,290.46 L494.96,301.08 L495.15,316.05 L495.35,307.21 L495.54,305.59 L495.74,313.77 L495.93,301.88 L496.13,291.40 L496.32,321.85 L496.52,323.57 L496.71,317.18 L496.91,323.57 L497.10,299.06 L497.29,317.30 L497.49,321.15 L497.68,309.26 L497.88,299.25 L498.07,302.11 L498.27,301.74 L498.46,319.42 L498.66,318.55 L498.85,323.41 L499.05,306.70 L499.24,314.82 L499.44,307.60 L499.63,322.86 L499.83,305.46 L500.02,319.64 L500.21,301.01 L500.41,316.56 L500.60,311.53 L500.80,303.36 L500.99,307.87 L501.19,320.57 L501.38,300.96 L501.58,305.76 L501.77,305.50 L501.97,310.85 L502.16,317.82 L502.36,307.57 L502.55,314.77 L502.75,303.58 L502.94,314.64 L503.13,307.17 L503.33,309.84 L503.52,319.20 L503.72,306.36 L503.91,299.12 L504.11,322.13 L504.30,308.20 L504.50,306.73 L504.69,300.90 L504.89,314.77 L505.08,302.16 L505.28,303.85 L505.47,317.04 L505.67,304.96 L505.86,310.35 L506.05,314.86 L506.25,313.61 L506.44,312.02 L506.64,302.71 L506.83,315.18 L507.03,303.81 L507.22,297.13 L507.42,305.61 L507.61,291.52 L507.81,297.47 L508.00,303.49 L508.20,287.06 L508.39,300.44 L508.59,314.33 L508.78,310.02 L508.97,287.09 L509.17,285.38 L509.36,300.56 L509.56,300.79 L509.75,305.62 L509.95,276.57 L510.14,269.56 L510.34,269.58 L510.53,291.58 L510.73,271.39 L510.92,299.66 L511.12,303.26 L511.31,283.77 L511.51,291.17 L511.70,286.30 L511.89,303.97 L512.09,303.09 L512.28,287.14 L512.48,286.95 L512.67,277.44 L512.87,276.62 L513.06,296.21 L513.26,293.75 L513.45,301.68 L513.65,306.75 L513.84,298.84 L514.04,293.48 L514.23,275.20 L514.43,288.34 L514.62,286.25 L514.81,286.64 L515.01,283.53 L515.20,283.81 L515.40,318.61 L515.59,312.53 L515.79,314.01 L515.98,295.38 L516.18,307.14 L516.37,292.50 L516.57,305.42 L516.76,320.99 L516.96,316.05 L517.15,311.40 L517.35,318.56 L517.54,307.66 L517.73,321.80 L517.93,316.77 L518.12,322.58 L518.32,319.97 L518.51,305.45 L518.71,310.14 L518.90,299.61 L519.10,318.83 L519.29,316.76 L519.49,318.17 L519.68,316.45 L519.88,314.54 L520.07,312.00 L520.27,316.66 L520.46,318.64 L520.65,313.39 L520.85,321.20 L521.04,301.89 L521.24,308.65 L521.43,310.58 L521.63,311.98 L521.82,309.16 L522.02,296.51 L522.21,314.32 L522.41,308.82 L522.60,318.90 L522.80,313.48 L522.99,320.19 L523.19,303.22 L523.38,307.30 L523.57,305.37 L523.77,305.76 L523.96,317.41 L524.16,308.22 L524.35,318.58 L524.55,308.37 L524.74,319.65 L524.94,318.98 L525.13,320.22 L525.33,310.13 L525.52,320.56 L525.72,314.05 L525.91,312.75 L526.11,300.15 L526.30,304.42 L526.49,309.09 L526.69,306.35 L526.88,322.64 L527.08,313.95 L527.27,315.96 L527.47,298.73 L527.66,320.35 L527.86,299.50 L528.05,315.74 L528.25,299.31 L528.44,301.36 L528.64,311.65 L528.83,323.38 L529.03,320.01 L529.22,313.38 L529.41,294.94 L529.61,311.07 L529.80,303.24 L530.00,303.44 L530.19,313.70 L530.39,301.57 L530.58,309.76 L530.78,319.42 L530.97,319.46 L531.17,312.84 L531.36,312.01 L531.56,318.67 L531.75,297.60 L531.95,314.49 L532.14,302.26 L532.33,315.44 L532.53,310.05 L532.72,311.42 L532.92,300.47 L533.11,310.69 L533.31,313.49 L533.50,296.69 L533.70,300.98 L533.89,313.80 L534.09,311.43 L534.28,313.80 L534.48,292.51 L534.67,303.40 L534.87,289.79 L535.06,296.04 L535.25,287.08 L535.45,286.01 L535.64,297.18 L535.84,305.37 L536.03,298.45 L536.23,291.73 L536.42,269.56 L536.62,301.37 L536.81,281.38 L537.01,301.10 L537.20,286.09 L537.40,282.97 L537.59,312.92 L537.79,284.06 L537.98,278.38 L538.17,276.25 L538.37,278.93 L538.56,301.68 L538.76,313.70 L538.95,306.32 L539.15,282.31 L539.34,292.96 L539.54,301.58 L539.73,321.29 L539.93,320.03 L540.12,302.32 L540.32,292.33 L540.51,302.12 L540.71,310.56 L540.90,322.56 L541.09,316.38 L541.29,304.29 L541.48,314.08 L541.68,307.41 L541.87,320.41 L542.07,308.03 L542.26,310.19 L542.46,320.29 L542.65,303.36 L542.85,304.50 L543.04,317.39 L543.24,307.39 L543.43,301.49 L543.63,309.75 L543.82,303.59 L544.01,320.54 L544.21,323.10 L544.40,317.70 L544.60,303.17 L544.79,315.72 L544.99,301.90 L545.18,320.08 L545.38,294.81 L545.57,311.55 L545.77,304.49 L545.96,306.78 L546.16,305.17 L546.35,307.94 L546.55,298.02 L546.74,303.56 L546.93,304.48 L547.13,303.85 L547.32,311.63 L547.52,312.42 L547.71,319.46 L547.91,302.64 L548.10,312.01 L548.30,298.40 L548.49,316.25 L548.69,310.87 L548.88,314.29 L549.08,307.60 L549.27,297.74 L549.47,317.57 L549.66,313.08 L549.85,314.16 L550.05,318.03 L550.24,318.73 L550.44,302.03 L550.63,313.23 L550.83,307.20 L551.02,305.46 L551.22,307.50 L551.41,315.75 L551.61,306.40 L551.80,300.27 L552.00,311.44 L552.19,299.71 L552.39,301.09 L552.58,303.48 L552.77,305.71 L552.97,299.58 L553.16,310.37 L553.36,301.63 L553.55,319.24 L553.75,306.12 L553.94,319.13 L554.14,313.50 L554.33,307.99 L554.53,304.60 L554.72,304.54 L554.92,320.34 L555.11,322.49 L555.31,321.04 L555.50,306.80 L555.69,319.64 L555.89,300.19 L556.08,305.46 L556.28,315.11 L556.47,307.05 L556.67,322.08 L556.86,307.66 L557.06,318.62 L557.25,307.57 L557.45,314.88 L557.64,309.47 L557.84,306.90 L558.03,314.98 L558.23,316.92 L558.42,316.92 L558.61,303.02 L558.81,299.35 L559.00,308.25 L559.20,321.82 L559.39,307.52 L559.59,314.81 L559.78,319.77 L559.98,303.49 L560.17,301.04 L560.37,309.31 L560.56,308.27 L560.76,298.40 L560.95,323.53 L561.15,300.52 L561.34,298.02 L561.53,300.80 L561.73,308.76 L561.92,299.52 L562.12,310.21 L562.31,313.78 L562.51,310.16 L562.70,322.54 L562.90,322.12 L563.09,309.57 L563.29,307.50 L563.48,321.24 L563.68,303.42 L563.87,318.06 L564.07,317.14 L564.26,310.65 L564.45,303.25 L564.65,310.34 L564.84,300.75 L565.04,303.80 L565.23,308.41 L565.43,299.89 L565.62,314.24 L565.82,307.88 L566.01,306.17 L566.21,320.81 L566.40,316.42 L566.60,296.53 L566.79,315.66 L566.99,296.68 L567.18,323.02 L567.37,317.28 L567.57,318.03 L567.76,323.57 L567.96,303.70 L568.15,317.34 L568.35,308.12 L568.54,318.06 L568.74,308.44 L568.93,310.12 L569.13,310.59 L569.32,303.76 L569.52,313.83 L569.71,304.30 L569.91,300.53 L570.10,317.53 L570.29,316.07 L570.49,306.69 L570.68,319.30 L570.88,323.57 L571.07,307.48 L571.27,305.16 L571.46,319.34 L571.66,308.26 L571.85,310.62 L572.05,309.76 L572.24,300.73 L572.44,320.89 L572.63,317.87 L572.83,320.30 L573.02,307.02 L573.21,301.36 L573.41,309.06 L573.60,321.82 L573.80,309.95 L573.99,320.77 L574.19,321.61 L574.38,315.86 L574.58,300.52 L574.77,304.79 L574.97,297.87 L575.16,310.53 L575.36,319.21 L575.55,314.03 L575.75,320.77 L575.94,312.36 L576.13,307.86 L576.33,291.89 L576.52,299.66 L576.72,312.59 L576.91,316.65 L577.11,304.97 L577.30,315.68 L577.50,313.09 L577.69,317.47 L577.89,305.34 L578.08,301.87 L578.28,295.59 L578.47,308.29 L578.67,286.71 L578.86,305.63 L579.05,319.14 L579.25,315.10 L579.44,308.86 L579.64,311.20 L579.83,302.83 L580.03,321.90 L580.22,317.54 L580.42,318.62 L580.61,286.48 L580.81,300.86 L581.00,297.26 L581.20,298.61 L581.39,318.31 L581.59,318.08 L581.78,315.67 L581.97,308.08 L582.17,302.62 L582.36,310.07 L582.56,320.47 L582.75,305.88 L582.95,307.52 L583.14,313.23 L583.34,309.44 L583.53,315.93 L583.73,314.64 L583.92,308.58 L584.12,313.04 L584.31,314.00 L584.51,292.59 L584.70,300.98 L584.89,309.93 L585.09,299.85 L585.28,307.66 L585.48,322.65 L585.67,323.57 L585.87,319.35 L586.06,314.14 L586.26,319.51 L586.45,314.89 L586.65,299.05 L586.84,323.57 L587.04,322.54 L587.23,304.26 L587.43,302.87 L587.62,318.38 L587.81,323.57 L588.01,315.39 L588.20,303.82 L588.40,318.03 L588.59,310.21 L588.79,312.49 L588.98,300.66 L589.18,307.78 L589.37,314.02 L589.57,312.91 L589.76,317.37 L589.96,305.63 L590.15,315.21 L590.35,315.03 L590.54,313.29 L590.73,307.34 L590.93,310.08 L591.12,317.87 L591.32,309.03 L591.51,305.17 L591.71,305.25 L591.90,318.35 L592.10,321.57 L592.29,313.76 L592.49,319.20 L592.68,297.02 L592.88,305.37 L593.07,315.54 L593.27,301.88 L593.46,307.44 L593.65,323.57 L593.85,318.11 L594.04,316.71 L594.24,298.74 L594.43,306.07 L594.63,318.78 L594.82,299.63 L595.02,313.34 L595.21,295.38 L595.41,308.30 L595.60,323.57 L595.80,312.41 L595.99,303.81 L596.19,311.63 L596.38,303.85 L596.57,321.06 L596.77,323.57 L596.96,322.37 L597.16,303.97 L597.35,317.64 L597.55,297.48 L597.74,297.64 L597.94,320.02 L598.13,322.73 L598.33,301.09 L598.52,299.52 L598.72,293.04 L598.91,311.35 L599.11,320.23 L599.30,297.10 L599.49,301.72 L599.69,288.45 L599.88,311.43 L600.08,320.58 L600.27,319.89 L600.47,287.81 L600.66,308.28 L600.86,318.61 L601.05,323.34 L601.25,295.31 L601.44,307.32 L601.64,290.23 L601.83,295.80 L602.03,311.21 L602.22,295.15 L602.41,304.37 L602.61,293.71 L602.80,309.04 L603.00,306.54 L603.19,311.54 L603.39,312.56 L603.58,302.94 L603.78,295.81 L603.97,296.93 L604.17,310.98 L604.36,304.12 L604.56,302.57 L604.75,310.88 L604.95,297.41 L605.14,307.25 L605.33,315.99 L605.53,296.01 L605.72,313.59 L605.92,307.92 L606.11,294.22 L606.31,315.79 L606.50,302.48 L606.70,301.76 L606.89,312.40 L607.09,318.02 L607.28,309.21 L607.48,315.16 L607.67,310.48 L607.87,318.94 L608.06,310.52 L608.25,292.82 L608.45,323.57 L608.64,305.78 L608.84,310.92 L609.03,297.84 L609.23,300.03 L609.42,310.63 L609.62,316.96 L609.81,295.81 L610.01,299.96 L610.20,298.65 L610.40,321.62 L610.59,312.95 L610.79,310.97 L610.98,315.31 L611.17,317.72 L611.37,314.63 L611.56,318.85 L611.76,294.65 L611.95,298.89 L612.15,307.16 L612.34,308.61 L612.54,295.59 L612.73,310.86 L612.93,302.92 L613.12,323.57 L613.32,313.03 L613.51,318.58 L613.71,320.76 L613.90,303.58 L614.09,305.87 L614.29,314.13 L614.48,318.97 L614.68,304.77 L614.87,314.08 L615.07,304.74 L615.26,308.68 L615.46,305.53 L615.65,308.99 L615.85,300.64 L616.04,317.72 L616.24,301.47 L616.43,307.81 L616.63,306.29 L616.82,298.74 L617.01,321.33 L617.21,316.85 L617.40,305.76 L617.60,305.94 L617.79,315.30 L617.99,311.46 L618.18,305.10 L618.38,302.67 L618.57,301.89 L618.77,315.94 L618.96,312.98 L619.16,312.32 L619.35,295.94 L619.55,303.66 L619.74,311.29 L619.93,314.43 L620.13,308.45 L620.32,305.66 L620.52,308.89 L620.71,302.17 L620.91,300.58 L621.10,306.38 L621.30,304.59 L621.49,318.27 L621.69,309.52 L621.88,319.23 L622.08,299.02 L622.27,299.97 L622.47,307.60 L622.66,304.73 L622.85,303.88 L623.05,315.66 L623.24,311.87 L623.44,304.25 L623.63,294.11 L623.83,301.39 L624.02,321.65 L624.22,313.67 L624.41,322.24 L624.61,316.35 L624.80,286.38 L625.00,297.63 L625.19,312.80 L625.39,318.76 L625.58,315.96 L625.77,300.30 L625.97,320.10 L626.16,301.30 L626.36,316.15 L626.55,318.57 L626.75,297.52 L626.94,318.80 L627.14,295.83 L627.33,311.82 L627.53,293.95 L627.72,302.85 L627.92,300.20 L628.11,293.15 L628.31,298.12 L628.50,304.44 L628.69,310.90 L628.89,320.74 L629.08,316.93 L629.28,299.62 L629.47,296.04 L629.67,321.83 L629.86,311.07 L630.06,310.00 L630.25,316.18 L630.45,317.46 L630.64,300.06 L630.84,300.08 L631.03,299.47 L631.23,311.91 L631.42,297.81 L631.61,294.85 L631.81,298.24 L632.00,311.80 L632.20,310.31 L632.39,306.56 L632.59,294.58 L632.78,306.26 L632.98,308.27 L633.17,317.49 L633.37,310.64 L633.56,313.76 L633.76,306.30 L633.95,306.15 L634.15,314.05 L634.34,316.69 L634.53,301.65 L634.73,311.97 L634.92,300.56 L635.12,302.98 L635.31,292.59 L635.51,312.12 L635.70,290.84 L635.90,293.05 L636.09,305.32 L636.29,310.99 L636.48,316.76 L636.68,302.93 L636.87,316.81 L637.07,311.21 L637.26,323.28 L637.45,299.15 L637.65,301.83 L637.84,299.18 L638.04,293.55 L638.23,304.51 L638.43,311.34 L638.62,314.81 L638.82,306.16 L639.01,308.92 L639.21,309.03 L639.40,314.36 L639.60,316.37 L639.79,298.86 L639.99,294.01 L640.18,302.98 L640.37,305.37 L640.57,317.50 L640.76,309.72 L640.96,298.02 L641.15,296.34 L641.35,320.60 L641.54,298.53 L641.74,318.02 L641.93,294.17 L642.13,318.00 L642.32,299.74 L642.52,292.83 L642.71,323.26 L642.91,322.99 L643.10,308.68 L643.29,311.31 L643.49,298.76 L643.68,292.24 L643.88,320.62 L644.07,301.35 L644.27,307.24 L644.46,309.50 L644.66,306.59 L644.85,299.58 L645.05,315.99 L645.24,316.19 L645.44,298.73 L645.63,309.70 L645.83,320.21 L646.02,304.06 L646.21,308.65 L646.41,320.20 L646.60,313.02 L646.80,308.01 L646.99,301.70 L647.19,306.40 L647.38,306.88 L647.58,304.86 L647.77,312.30 L647.97,303.02 L648.16,305.16 L648.36,319.23 L648.55,304.97 L648.75,300.80 L648.94,300.26 L649.13,312.01 L649.33,320.09 L649.52,308.80 L649.72,322.12 L649.91,308.46 L650.11,294.61 L650.30,308.06 L650.50,305.52 L650.69,304.75 L650.89,311.27 L651.08,315.56 L651.28,305.43 L651.47,310.65 L651.67,307.90 L651.86,299.31 L652.05,303.84 L652.25,313.13 L652.44,309.09 L652.64,308.04 L652.83,310.29 L653.03,304.59 L653.22,295.91 L653.42,322.44 L653.61,320.23 L653.81,312.92 L654.00,305.58 L654.20,320.64 L654.39,313.20 L654.59,307.62 L654.78,319.00 L654.97,307.30 L655.17,307.36 L655.36,318.06 L655.56,300.89 L655.75,299.53 L655.95,291.57 L656.14,318.72 L656.34,316.24 L656.53,310.00 L656.73,301.40 L656.92,323.57 L657.12,318.20 L657.31,291.79 L657.51,318.38 L657.70,318.41" fill="none" stroke="#0033cc" stroke-width="2.0" stroke-linejoin="round" />
<line x1="68.20" y1="322.20" x2="73.70" y2="322.20" stroke="#000" stroke-width="1.6"/>
<text x="57.8" y="328.5" font-size="17.5" fill="#000" text-anchor="end" >0</text>
<line x1="68.20" y1="291.77" x2="73.70" y2="291.77" stroke="#000" stroke-width="1.6"/>
<text x="57.8" y="298.1" font-size="17.5" fill="#000" text-anchor="end" >10</text>
<line x1="68.20" y1="261.34" x2="73.70" y2="261.34" stroke="#000" stroke-width="1.6"/>
<text x="57.8" y="267.6" font-size="17.5" fill="#000" text-anchor="end" >20</text>
<line x1="68.20" y1="230.91" x2="73.70" y2="230.91" stroke="#000" stroke-width="1.6"/>
<text x="57.8" y="237.2" font-size="17.5" fill="#000" text-anchor="end" >30</text>
<line x1="68.20" y1="200.48" x2="73.70" y2="200.48" stroke="#000" stroke-width="1.6"/>
<text x="57.8" y="206.8" font-size="17.5" fill="#000" text-anchor="end" >40</text>
<line x1="68.20" y1="170.05" x2="73.70" y2="170.05" stroke="#000" stroke-width="1.6"/>
<text x="57.8" y="176.3" font-size="17.5" fill="#000" text-anchor="end" >50</text>
<line x1="68.20" y1="139.62" x2="73.70" y2="139.62" stroke="#000" stroke-width="1.6"/>
<text x="57.8" y="145.9" font-size="17.5" fill="#000" text-anchor="end" >60</text>
<line x1="68.20" y1="109.19" x2="73.70" y2="109.19" stroke="#000" stroke-width="1.6"/>
<text x="57.8" y="115.5" font-size="17.5" fill="#000" text-anchor="end" >70</text>
<line x1="68.20" y1="78.76" x2="73.70" y2="78.76" stroke="#000" stroke-width="1.6"/>
<text x="57.8" y="85.1" font-size="17.5" fill="#000" text-anchor="end" >80</text>
<line x1="68.20" y1="48.33" x2="73.70" y2="48.33" stroke="#000" stroke-width="1.6"/>
<text x="57.8" y="54.6" font-size="17.5" fill="#000" text-anchor="end" >90</text>
<line x1="68.20" y1="17.90" x2="73.70" y2="17.90" stroke="#000" stroke-width="1.6"/>
<text x="57.8" y="24.2" font-size="17.5" fill="#000" text-anchor="end" >100</text>
<line x1="73.70" y1="322.20" x2="73.70" y2="327.60" stroke="#000" stroke-width="1.6"/>
<text x="73.7" y="347.4" font-size="16" fill="#595959" text-anchor="middle" >10</text>
<line x1="122.37" y1="322.20" x2="122.37" y2="327.60" stroke="#000" stroke-width="1.6"/>
<text x="122.4" y="347.4" font-size="16" fill="#595959" text-anchor="middle" >15</text>
<line x1="171.03" y1="322.20" x2="171.03" y2="327.60" stroke="#000" stroke-width="1.6"/>
<text x="171.0" y="347.4" font-size="16" fill="#595959" text-anchor="middle" >20</text>
<line x1="219.70" y1="322.20" x2="219.70" y2="327.60" stroke="#000" stroke-width="1.6"/>
<text x="219.7" y="347.4" font-size="16" fill="#595959" text-anchor="middle" >25</text>
<line x1="268.37" y1="322.20" x2="268.37" y2="327.60" stroke="#000" stroke-width="1.6"/>
<text x="268.4" y="347.4" font-size="16" fill="#595959" text-anchor="middle" >30</text>
<line x1="317.03" y1="322.20" x2="317.03" y2="327.60" stroke="#000" stroke-width="1.6"/>
<text x="317.0" y="347.4" font-size="16" fill="#595959" text-anchor="middle" >35</text>
<line x1="365.70" y1="322.20" x2="365.70" y2="327.60" stroke="#000" stroke-width="1.6"/>
<text x="365.7" y="347.4" font-size="16" fill="#595959" text-anchor="middle" >40</text>
<line x1="414.37" y1="322.20" x2="414.37" y2="327.60" stroke="#000" stroke-width="1.6"/>
<text x="414.4" y="347.4" font-size="16" fill="#595959" text-anchor="middle" >45</text>
<line x1="463.03" y1="322.20" x2="463.03" y2="327.60" stroke="#000" stroke-width="1.6"/>
<text x="463.0" y="347.4" font-size="16" fill="#595959" text-anchor="middle" >50</text>
<line x1="511.70" y1="322.20" x2="511.70" y2="327.60" stroke="#000" stroke-width="1.6"/>
<text x="511.7" y="347.4" font-size="16" fill="#595959" text-anchor="middle" >55</text>
<line x1="560.37" y1="322.20" x2="560.37" y2="327.60" stroke="#000" stroke-width="1.6"/>
<text x="560.4" y="347.4" font-size="16" fill="#595959" text-anchor="middle" >60</text>
<line x1="609.03" y1="322.20" x2="609.03" y2="327.60" stroke="#000" stroke-width="1.6"/>
<text x="609.0" y="347.4" font-size="16" fill="#595959" text-anchor="middle" >65</text>
<line x1="657.70" y1="322.20" x2="657.70" y2="327.60" stroke="#000" stroke-width="1.6"/>
<text x="657.7" y="347.4" font-size="16" fill="#595959" text-anchor="middle" >70</text>
<text x="367.6" y="362.9" font-size="16.3" fill="#595959" text-anchor="middle" >2θ (<tspan font-size="11" dy="-4.6">o</tspan><tspan dy="4.6">)</tspan></text>
<text transform="translate(19.2,145.3) rotate(-90)" font-size="16.3" fill="#1a1a1a" text-anchor="middle">Intensity (a.u.)</text>
<text x="-0.3" y="22.0" font-size="24.3" fill="#000" text-anchor="start" >A</text>
<text transform="translate(253.5,163.2) rotate(-90)" font-size="15" fill="#000" text-anchor="middle">(111)</text>
<text transform="translate(295.7,38.6) rotate(-90)" font-size="15" fill="#000" text-anchor="middle">(200)</text>
<text transform="translate(352.9,193.4) rotate(-90)" font-size="15" fill="#000" text-anchor="middle">(111)</text>
<text transform="translate(433.9,151.1) rotate(-90)" font-size="15" fill="#000" text-anchor="middle">(220)</text>
<text transform="translate(515.5,248.0) rotate(-90)" font-size="15" fill="#000" text-anchor="middle">(311)</text>
<text transform="translate(541.2,249.5) rotate(-90)" font-size="15" fill="#000" text-anchor="middle">(222)</text>
<text transform="translate(609.4,253.7) rotate(-90)" font-size="15" fill="#000" text-anchor="middle">(220)</text>
<text transform="translate(641.2,264.7) rotate(-90)" font-size="15" fill="#000" text-anchor="middle">(400)</text>
<text x="348.8" y="226.5" font-size="18" fill="#000" text-anchor="middle" font-weight="bold">*</text>
<text x="605.7" y="284.8" font-size="18" fill="#000" text-anchor="middle" font-weight="bold">*</text>
<line x1="73.50" y1="381.90" x2="73.50" y2="608.50" stroke="#8a8a8a" stroke-width="1.3"/>
<line x1="73.50" y1="608.50" x2="627.50" y2="608.50" stroke="#8a8a8a" stroke-width="1.3"/>
<line x1="627.50" y1="380.30" x2="627.50" y2="608.50" stroke="#8a8a8a" stroke-width="1.3"/>
<line x1="68.40" y1="381.90" x2="73.50" y2="381.90" stroke="#333" stroke-width="1.2"/>
<text x="66.0" y="386.3" font-size="12.5" fill="#111" text-anchor="end" >100.2</text>
<line x1="68.40" y1="422.00" x2="73.50" y2="422.00" stroke="#333" stroke-width="1.2"/>
<text x="66.0" y="426.4" font-size="12.5" fill="#111" text-anchor="end" >90</text>
<line x1="68.40" y1="461.30" x2="73.50" y2="461.30" stroke="#333" stroke-width="1.2"/>
<text x="66.0" y="465.7" font-size="12.5" fill="#111" text-anchor="end" >80</text>
<line x1="68.40" y1="500.60" x2="73.50" y2="500.60" stroke="#333" stroke-width="1.2"/>
<text x="66.0" y="505.0" font-size="12.5" fill="#111" text-anchor="end" >70</text>
<line x1="68.40" y1="540.00" x2="73.50" y2="540.00" stroke="#333" stroke-width="1.2"/>
<text x="66.0" y="544.4" font-size="12.5" fill="#111" text-anchor="end" >60</text>
<line x1="68.40" y1="579.20" x2="73.50" y2="579.20" stroke="#333" stroke-width="1.2"/>
<text x="66.0" y="583.6" font-size="12.5" fill="#111" text-anchor="end" >50</text>
<line x1="68.40" y1="608.30" x2="73.50" y2="608.30" stroke="#333" stroke-width="1.2"/>
<text x="66.0" y="612.7" font-size="12.5" fill="#111" text-anchor="end" >42.61</text>
<line x1="72.00" y1="402.10" x2="73.50" y2="402.10" stroke="#666" stroke-width="1"/>
<line x1="72.00" y1="442.20" x2="73.50" y2="442.20" stroke="#666" stroke-width="1"/>
<line x1="72.00" y1="481.50" x2="73.50" y2="481.50" stroke="#666" stroke-width="1"/>
<line x1="72.00" y1="520.70" x2="73.50" y2="520.70" stroke="#666" stroke-width="1"/>
<line x1="72.00" y1="559.90" x2="73.50" y2="559.90" stroke="#666" stroke-width="1"/>
<line x1="72.00" y1="598.90" x2="73.50" y2="598.90" stroke="#666" stroke-width="1"/>
<line x1="627.50" y1="380.30" x2="631.40" y2="380.30" stroke="#333" stroke-width="1.2"/>
<text x="635.5" y="384.7" font-size="12.5" fill="#111" text-anchor="start" >-132.9</text>
<line x1="627.50" y1="398.30" x2="631.40" y2="398.30" stroke="#333" stroke-width="1.2"/>
<text x="635.5" y="402.7" font-size="12.5" fill="#111" text-anchor="start" >-120</text>
<line x1="627.50" y1="426.10" x2="631.40" y2="426.10" stroke="#333" stroke-width="1.2"/>
<text x="635.5" y="430.5" font-size="12.5" fill="#111" text-anchor="start" >-100</text>
<line x1="627.50" y1="454.00" x2="631.40" y2="454.00" stroke="#333" stroke-width="1.2"/>
<text x="635.5" y="458.4" font-size="12.5" fill="#111" text-anchor="start" >-80</text>
<line x1="627.50" y1="481.80" x2="631.40" y2="481.80" stroke="#333" stroke-width="1.2"/>
<text x="635.5" y="486.2" font-size="12.5" fill="#111" text-anchor="start" >-60</text>
<line x1="627.50" y1="509.70" x2="631.40" y2="509.70" stroke="#333" stroke-width="1.2"/>
<text x="635.5" y="514.1" font-size="12.5" fill="#111" text-anchor="start" >-40</text>
<line x1="627.50" y1="537.60" x2="631.40" y2="537.60" stroke="#333" stroke-width="1.2"/>
<text x="635.5" y="542.0" font-size="12.5" fill="#111" text-anchor="start" >-20</text>
<line x1="627.50" y1="565.40" x2="631.40" y2="565.40" stroke="#333" stroke-width="1.2"/>
<text x="637.3" y="569.8" font-size="12.5" fill="#111" text-anchor="start" >0</text>
<line x1="627.50" y1="593.30" x2="631.40" y2="593.30" stroke="#333" stroke-width="1.2"/>
<text x="637.3" y="597.7" font-size="12.5" fill="#111" text-anchor="start" >20</text>
<line x1="627.50" y1="608.20" x2="631.40" y2="608.20" stroke="#333" stroke-width="1.2"/>
<text x="637.3" y="612.6" font-size="12.5" fill="#111" text-anchor="start" >30.7</text>
<line x1="73.10" y1="608.50" x2="73.10" y2="613.50" stroke="#333" stroke-width="1.2"/>
<text x="76.9" y="627.3" font-size="13" fill="#111" text-anchor="middle" >29.84</text>
<line x1="120.40" y1="608.50" x2="120.40" y2="613.50" stroke="#333" stroke-width="1.2"/>
<text x="120.4" y="627.3" font-size="13" fill="#111" text-anchor="middle" >100</text>
<line x1="189.30" y1="608.50" x2="189.30" y2="613.50" stroke="#333" stroke-width="1.2"/>
<text x="189.3" y="627.3" font-size="13" fill="#111" text-anchor="middle" >200</text>
<line x1="258.10" y1="608.50" x2="258.10" y2="613.50" stroke="#333" stroke-width="1.2"/>
<text x="258.1" y="627.3" font-size="13" fill="#111" text-anchor="middle" >300</text>
<line x1="327.00" y1="608.50" x2="327.00" y2="613.50" stroke="#333" stroke-width="1.2"/>
<text x="327.0" y="627.3" font-size="13" fill="#111" text-anchor="middle" >400</text>
<line x1="395.80" y1="608.50" x2="395.80" y2="613.50" stroke="#333" stroke-width="1.2"/>
<text x="395.8" y="627.3" font-size="13" fill="#111" text-anchor="middle" >500</text>
<line x1="464.60" y1="608.50" x2="464.60" y2="613.50" stroke="#333" stroke-width="1.2"/>
<text x="464.6" y="627.3" font-size="13" fill="#111" text-anchor="middle" >600</text>
<line x1="533.00" y1="608.50" x2="533.00" y2="613.50" stroke="#333" stroke-width="1.2"/>
<text x="532.6" y="627.3" font-size="13" fill="#111" text-anchor="middle" >700</text>
<line x1="602.60" y1="608.50" x2="602.60" y2="613.50" stroke="#333" stroke-width="1.2"/>
<text x="602.3" y="627.3" font-size="13" fill="#111" text-anchor="middle" >800</text>
<line x1="626.80" y1="608.50" x2="626.80" y2="613.50" stroke="#333" stroke-width="1.2"/>
<text x="633.3" y="627.3" font-size="13" fill="#111" text-anchor="middle" >834.4</text>
<text x="343.2" y="651.8" font-size="16.3" fill="#111" text-anchor="middle" >Temperature (<tspan font-size="10" dy="-4.2">o</tspan><tspan dy="4.2">C)</tspan></text>
<text transform="translate(37.5,487.6) rotate(-90)" font-size="14.8" fill="#111" text-anchor="middle">Weight (%)</text>
<text transform="translate(672.6,500.1) rotate(-90)" font-size="13" fill="#111" text-anchor="middle">Heat Flow Endo Down (mW)</text>
<text x="1.5" y="385.8" font-size="24.6" fill="#000" text-anchor="start" >B</text>
<text transform="translate(162.7,426.8) scale(1,1.08)" font-size="16.5" fill="#111">TGA</text>
<text transform="translate(490.8,446.2) scale(1,1.08)" font-size="16.5" fill="#111">DTA</text>
<path d="M73.30,382.43 L74.00,382.10 L74.70,381.81 L75.40,381.58 L76.10,381.40 L76.80,381.26 L77.50,381.17 L78.20,381.13 L78.90,381.12 L79.60,381.15 L80.30,381.22 L81.00,381.32 L81.70,381.45 L82.40,381.61 L83.10,381.80 L83.80,382.01 L84.50,382.25 L85.20,382.50 L85.90,382.78 L86.60,383.07 L87.30,383.38 L88.00,383.69 L88.70,384.02 L89.40,384.35 L90.10,384.69 L90.80,385.03 L91.50,385.37 L92.20,385.71 L92.90,386.05 L93.60,386.38 L94.30,386.70 L95.00,387.01 L95.70,387.32 L96.40,387.62 L97.10,387.92 L97.80,388.20 L98.50,388.48 L99.20,388.76 L99.90,389.02 L100.60,389.28 L101.30,389.54 L102.00,389.79 L102.70,390.03 L103.40,390.27 L104.10,390.50 L104.80,390.72 L105.50,390.94 L106.20,391.16 L106.90,391.37 L107.60,391.57 L108.30,391.77 L109.00,391.97 L109.70,392.16 L110.40,392.35 L111.10,392.53 L111.80,392.71 L112.50,392.88 L113.20,393.05 L113.90,393.22 L114.60,393.38 L115.30,393.54 L116.00,393.70 L116.70,393.85 L117.40,394.00 L118.10,394.15 L118.80,394.29 L119.50,394.44 L120.20,394.58 L120.90,394.71 L121.60,394.84 L122.30,394.98 L123.00,395.10 L123.70,395.23 L124.40,395.35 L125.10,395.47 L125.80,395.59 L126.50,395.71 L127.20,395.82 L127.90,395.93 L128.60,396.04 L129.30,396.14 L130.00,396.25 L130.70,396.35 L131.40,396.45 L132.10,396.55 L132.80,396.64 L133.50,396.74 L134.20,396.83 L134.90,396.92 L135.60,397.00 L136.30,397.09 L137.00,397.17 L137.70,397.26 L138.40,397.34 L139.10,397.42 L139.80,397.49 L140.50,397.57 L141.20,397.64 L141.90,397.72 L142.60,397.79 L143.30,397.86 L144.00,397.92 L144.70,397.99 L145.40,398.06 L146.10,398.12 L146.80,398.18 L147.50,398.25 L148.20,398.31 L148.90,398.37 L149.60,398.42 L150.30,398.48 L151.00,398.54 L151.70,398.59 L152.40,398.65 L153.10,398.70 L153.80,398.76 L154.50,398.81 L155.20,398.86 L155.90,398.91 L156.60,398.96 L157.30,399.01 L158.00,399.06 L158.70,399.11 L159.40,399.16 L160.10,399.21 L160.80,399.25 L161.50,399.30 L162.20,399.35 L162.90,399.39 L163.60,399.44 L164.30,399.49 L165.00,399.53 L165.70,399.58 L166.40,399.63 L167.10,399.67 L167.80,399.72 L168.50,399.76 L169.20,399.81 L169.90,399.86 L170.60,399.90 L171.30,399.95 L172.00,400.00 L172.70,400.04 L173.40,400.09 L174.10,400.14 L174.80,400.19 L175.50,400.24 L176.20,400.29 L176.90,400.34 L177.60,400.39 L178.30,400.44 L179.00,400.50 L179.70,400.55 L180.40,400.60 L181.10,400.66 L181.80,400.71 L182.50,400.77 L183.20,400.83 L183.90,400.89 L184.60,400.95 L185.30,401.01 L186.00,401.07 L186.70,401.13 L187.40,401.20 L188.10,401.26 L188.80,401.33 L189.50,401.40 L190.20,401.47 L190.90,401.54 L191.60,401.61 L192.30,401.69 L193.00,401.76 L193.70,401.84 L194.40,401.92 L195.10,402.00 L195.80,402.08 L196.50,402.16 L197.20,402.25 L197.90,402.34 L198.60,402.43 L199.30,402.52 L200.00,402.62 L200.70,402.72 L201.40,402.82 L202.10,402.93 L202.80,403.04 L203.50,403.16 L204.20,403.28 L204.90,403.40 L205.60,403.54 L206.30,403.67 L207.00,403.82 L207.70,403.97 L208.40,404.13 L209.10,404.29 L209.80,404.47 L210.50,404.65 L211.20,404.84 L211.90,405.03 L212.60,405.24 L213.30,405.46 L214.00,405.68 L214.70,405.92 L215.40,406.16 L216.10,406.42 L216.80,406.68 L217.50,406.96 L218.20,407.25 L218.90,407.55 L219.60,407.87 L220.30,408.19 L221.00,408.53 L221.70,408.88 L222.40,409.25 L223.10,409.63 L223.80,410.02 L224.50,410.43 L225.20,410.85 L225.90,411.29 L226.60,411.74 L227.30,412.21 L228.00,412.69 L228.70,413.19 L229.40,413.71 L230.10,414.25 L230.80,414.80 L231.50,415.37 L232.20,415.96 L232.90,416.56 L233.60,417.19 L234.30,417.82 L235.00,418.48 L235.70,419.15 L236.40,419.83 L237.10,420.52 L237.80,421.23 L238.50,421.95 L239.20,422.68 L239.90,423.42 L240.60,424.17 L241.30,424.92 L242.00,425.69 L242.70,426.46 L243.40,427.24 L244.10,428.02 L244.80,428.81 L245.50,429.61 L246.20,430.40 L246.90,431.20 L247.60,432.00 L248.30,432.80 L249.00,433.60 L249.70,434.41 L250.40,435.21 L251.10,436.00 L251.80,436.80 L252.50,437.59 L253.20,438.38 L253.90,439.16 L254.60,439.94 L255.30,440.71 L256.00,441.47 L256.70,442.23 L257.40,442.99 L258.10,443.74 L258.80,444.50 L259.50,445.25 L260.20,446.02 L260.90,446.78 L261.60,447.56 L262.30,448.34 L263.00,449.13 L263.70,449.94 L264.40,450.76 L265.10,451.60 L265.80,452.45 L266.50,453.32 L267.20,454.21 L267.90,455.13 L268.60,456.05 L269.30,456.98 L270.00,457.92 L270.70,458.86 L271.40,459.79 L272.10,460.72 L272.80,461.63 L273.50,462.53 L274.20,463.41 L274.90,464.27 L275.60,465.12 L276.30,465.95 L277.00,466.76 L277.70,467.56 L278.40,468.33 L279.10,469.09 L279.80,469.82 L280.50,470.54 L281.20,471.24 L281.90,471.92 L282.60,472.57 L283.30,473.21 L284.00,473.83 L284.70,474.42 L285.40,475.00 L286.10,475.55 L286.80,476.09 L287.50,476.60 L288.20,477.10 L288.90,477.59 L289.60,478.06 L290.30,478.51 L291.00,478.96 L291.70,479.39 L292.40,479.80 L293.10,480.21 L293.80,480.61 L294.50,481.00 L295.20,481.39 L295.90,481.77 L296.60,482.14 L297.30,482.50 L298.00,482.86 L298.70,483.22 L299.40,483.57 L300.10,483.92 L300.80,484.26 L301.50,484.60 L302.20,484.93 L302.90,485.26 L303.60,485.59 L304.30,485.91 L305.00,486.22 L305.70,486.54 L306.40,486.85 L307.10,487.16 L307.80,487.46 L308.50,487.76 L309.20,488.06 L309.90,488.35 L310.60,488.65 L311.30,488.94 L312.00,489.22 L312.70,489.51 L313.40,489.79 L314.10,490.07 L314.80,490.35 L315.50,490.63 L316.20,490.91 L316.90,491.18 L317.60,491.45 L318.30,491.72 L319.00,491.99 L319.70,492.25 L320.40,492.51 L321.10,492.77 L321.80,493.03 L322.50,493.29 L323.20,493.55 L323.90,493.80 L324.60,494.05 L325.30,494.30 L326.00,494.55 L326.70,494.80 L327.40,495.04 L328.10,495.28 L328.80,495.52 L329.50,495.76 L330.20,496.00 L330.90,496.24 L331.60,496.47 L332.30,496.71 L333.00,496.94 L333.70,497.17 L334.40,497.40 L335.10,497.62 L335.80,497.85 L336.50,498.07 L337.20,498.30 L337.90,498.52 L338.60,498.74 L339.30,498.96 L340.00,499.17 L340.70,499.39 L341.40,499.60 L342.10,499.82 L342.80,500.03 L343.50,500.24 L344.20,500.45 L344.90,500.66 L345.60,500.87 L346.30,501.07 L347.00,501.28 L347.70,501.48 L348.40,501.69 L349.10,501.89 L349.80,502.09 L350.50,502.29 L351.20,502.49 L351.90,502.69 L352.60,502.88 L353.30,503.08 L354.00,503.28 L354.70,503.47 L355.40,503.66 L356.10,503.86 L356.80,504.05 L357.50,504.24 L358.20,504.43 L358.90,504.62 L359.60,504.81 L360.30,505.00 L361.00,505.19 L361.70,505.38 L362.40,505.56 L363.10,505.75 L363.80,505.93 L364.50,506.12 L365.20,506.30 L365.90,506.49 L366.60,506.67 L367.30,506.85 L368.00,507.04 L368.70,507.22 L369.40,507.40 L370.10,507.58 L370.80,507.76 L371.50,507.94 L372.20,508.13 L372.90,508.31 L373.60,508.49 L374.30,508.67 L375.00,508.85 L375.70,509.03 L376.40,509.21 L377.10,509.39 L377.80,509.57 L378.50,509.74 L379.20,509.92 L379.90,510.11 L380.60,510.29 L381.30,510.47 L382.00,510.65 L382.70,510.83 L383.40,511.01 L384.10,511.19 L384.80,511.37 L385.50,511.55 L386.20,511.74 L386.90,511.92 L387.60,512.10 L388.30,512.29 L389.00,512.47 L389.70,512.66 L390.40,512.85 L391.10,513.03 L391.80,513.22 L392.50,513.41 L393.20,513.60 L393.90,513.79 L394.60,513.98 L395.30,514.17 L396.00,514.37 L396.70,514.56 L397.40,514.76 L398.10,514.95 L398.80,515.15 L399.50,515.35 L400.20,515.55 L400.90,515.75 L401.60,515.95 L402.30,516.15 L403.00,516.36 L403.70,516.56 L404.40,516.77 L405.10,516.98 L405.80,517.19 L406.50,517.40 L407.20,517.62 L407.90,517.83 L408.60,518.05 L409.30,518.27 L410.00,518.49 L410.70,518.71 L411.40,518.93 L412.10,519.16 L412.80,519.38 L413.50,519.61 L414.20,519.84 L414.90,520.07 L415.60,520.31 L416.30,520.55 L417.00,520.78 L417.70,521.03 L418.40,521.27 L419.10,521.51 L419.80,521.76 L420.50,522.01 L421.20,522.26 L421.90,522.51 L422.60,522.77 L423.30,523.03 L424.00,523.28 L424.70,523.55 L425.40,523.81 L426.10,524.08 L426.80,524.34 L427.50,524.62 L428.20,524.89 L428.90,525.16 L429.60,525.44 L430.30,525.72 L431.00,526.00 L431.70,526.29 L432.40,526.57 L433.10,526.86 L433.80,527.15 L434.50,527.45 L435.20,527.74 L435.90,528.04 L436.60,528.34 L437.30,528.65 L438.00,528.95 L438.70,529.26 L439.40,529.57 L440.10,529.88 L440.80,530.20 L441.50,530.52 L442.20,530.84 L442.90,531.16 L443.60,531.49 L444.30,531.82 L445.00,532.15 L445.70,532.48 L446.40,532.82 L447.10,533.16 L447.80,533.50 L448.50,533.85 L449.20,534.19 L449.90,534.54 L450.60,534.90 L451.30,535.25 L452.00,535.61 L452.70,535.97 L453.40,536.33 L454.10,536.70 L454.80,537.07 L455.50,537.44 L456.20,537.82 L456.90,538.20 L457.60,538.58 L458.30,538.96 L459.00,539.35 L459.70,539.74 L460.40,540.13 L461.10,540.52 L461.80,540.92 L462.50,541.32 L463.20,541.73 L463.90,542.14 L464.60,542.55 L465.30,542.96 L466.00,543.38 L466.70,543.80 L467.40,544.22 L468.10,544.65 L468.80,545.08 L469.50,545.51 L470.20,545.95 L470.90,546.40 L471.60,546.85 L472.30,547.30 L473.00,547.76 L473.70,548.23 L474.40,548.71 L475.10,549.19 L475.80,549.67 L476.50,550.17 L477.20,550.67 L477.90,551.18 L478.60,551.70 L479.30,552.22 L480.00,552.76 L480.70,553.30 L481.40,553.85 L482.10,554.42 L482.80,554.99 L483.50,555.57 L484.20,556.16 L484.90,556.77 L485.60,557.38 L486.30,558.01 L487.00,558.64 L487.70,559.29 L488.40,559.95 L489.10,560.63 L489.80,561.31 L490.50,562.01 L491.20,562.72 L491.90,563.44 L492.60,564.17 L493.30,564.90 L494.00,565.65 L494.70,566.40 L495.40,567.16 L496.10,567.93 L496.80,568.70 L497.50,569.47 L498.20,570.25 L498.90,571.02 L499.60,571.80 L500.30,572.58 L501.00,573.36 L501.70,574.14 L502.40,574.92 L503.10,575.68 L503.80,576.44 L504.50,577.18 L505.20,577.91 L505.90,578.61 L506.60,579.30 L507.30,579.96 L508.00,580.61 L508.70,581.28 L509.40,581.98 L510.10,582.73 L510.80,583.56 L511.50,584.49 L512.20,585.54 L512.90,586.72 L513.60,588.01 L514.30,589.29 L515.00,590.48 L515.70,591.50 L516.40,592.38 L517.10,593.14 L517.80,593.82 L518.50,594.45 L519.20,595.07 L519.90,595.67 L520.60,596.24 L521.30,596.78 L522.00,597.28 L522.70,597.75 L523.40,598.16 L524.10,598.53 L524.80,598.86 L525.50,599.15 L526.20,599.41 L526.90,599.64 L527.60,599.85 L528.30,600.04 L529.00,600.21 L529.70,600.38 L530.40,600.54 L531.10,600.70 L531.80,600.85 L532.50,601.00 L533.20,601.15 L533.90,601.29 L534.60,601.43 L535.30,601.56 L536.00,601.69 L536.70,601.82 L537.40,601.94 L538.10,602.06 L538.80,602.18 L539.50,602.29 L540.20,602.40 L540.90,602.51 L541.60,602.61 L542.30,602.71 L543.00,602.81 L543.70,602.90 L544.40,602.99 L545.10,603.08 L545.80,603.16 L546.50,603.24 L547.20,603.32 L547.90,603.40 L548.60,603.47 L549.30,603.54 L550.00,603.61 L550.70,603.67 L551.40,603.74 L552.10,603.80 L552.80,603.86 L553.50,603.91 L554.20,603.97 L554.90,604.02 L555.60,604.07 L556.30,604.11 L557.00,604.16 L557.70,604.20 L558.40,604.25 L559.10,604.29 L559.80,604.32 L560.50,604.36 L561.20,604.40 L561.90,604.43 L562.60,604.46 L563.30,604.49 L564.00,604.52 L564.70,604.55 L565.40,604.57 L566.10,604.60 L566.80,604.62 L567.50,604.65 L568.20,604.67 L568.90,604.69 L569.60,604.71 L570.30,604.73 L571.00,604.74 L571.70,604.76 L572.40,604.78 L573.10,604.79 L573.80,604.81 L574.50,604.82 L575.20,604.84 L575.90,604.85 L576.60,604.87 L577.30,604.88 L578.00,604.89 L578.70,604.91 L579.40,604.92 L580.10,604.93 L580.80,604.94 L581.50,604.96 L582.20,604.97 L582.90,604.98 L583.60,605.00 L584.30,605.01 L585.00,605.02 L585.70,605.04 L586.40,605.05 L587.10,605.07 L587.80,605.08 L588.50,605.10 L589.20,605.12 L589.90,605.14 L590.60,605.15 L591.30,605.17 L592.00,605.19 L592.70,605.22 L593.40,605.24 L594.10,605.26 L594.80,605.29 L595.50,605.31 L596.20,605.34 L596.90,605.37 L597.60,605.40 L598.30,605.43 L599.00,605.46 L599.70,605.50 L600.40,605.54 L601.10,605.57 L601.80,605.61 L602.50,605.66 L603.20,605.70 L603.90,605.74 L604.60,605.79 L605.30,605.84 L606.00,605.89 L606.70,605.95 L607.40,606.00 L608.10,606.06 L608.80,606.12 L609.50,606.18 L610.20,606.25 L610.90,606.32 L611.60,606.39 L612.30,606.46 L613.00,606.54 L613.70,606.61 L614.40,606.70 L615.10,606.78 L615.80,606.87 L616.50,606.96 L617.20,607.05 L617.90,607.15 L618.60,607.25 L619.30,607.35 L620.00,607.45 L620.70,607.56 L621.40,607.67 L622.10,607.79 L622.80,607.91 L623.50,608.03 L624.20,608.16 L624.90,608.29 L625.60,608.42 L626.30,608.56 L627.00,608.70 L627.30,608.77" fill="none" stroke="#962626" stroke-width="1.25" stroke-linejoin="round" stroke-linecap="round"/>
<path d="M73.30,596.26 L74.00,596.63 L74.70,596.95 L75.40,597.23 L76.10,597.47 L76.80,597.67 L77.50,597.83 L78.20,597.96 L78.90,598.04 L79.60,598.10 L80.30,598.12 L81.00,598.11 L81.70,598.07 L82.40,597.99 L83.10,597.90 L83.80,597.77 L84.50,597.62 L85.20,597.44 L85.90,597.24 L86.60,597.02 L87.30,596.78 L88.00,596.52 L88.70,596.24 L89.40,595.95 L90.10,595.64 L90.80,595.32 L91.50,594.98 L92.20,594.63 L92.90,594.28 L93.60,593.91 L94.30,593.54 L95.00,593.16 L95.70,592.77 L96.40,592.38 L97.10,591.99 L97.80,591.60 L98.50,591.21 L99.20,590.82 L99.90,590.43 L100.60,590.04 L101.30,589.66 L102.00,589.28 L102.70,588.90 L103.40,588.53 L104.10,588.15 L104.80,587.78 L105.50,587.41 L106.20,587.05 L106.90,586.68 L107.60,586.32 L108.30,585.96 L109.00,585.61 L109.70,585.25 L110.40,584.90 L111.10,584.55 L111.80,584.20 L112.50,583.85 L113.20,583.50 L113.90,583.16 L114.60,582.82 L115.30,582.48 L116.00,582.14 L116.70,581.80 L117.40,581.46 L118.10,581.13 L118.80,580.80 L119.50,580.46 L120.20,580.13 L120.90,579.81 L121.60,579.48 L122.30,579.15 L123.00,578.82 L123.70,578.50 L124.40,578.18 L125.10,577.85 L125.80,577.53 L126.50,577.21 L127.20,576.89 L127.90,576.57 L128.60,576.25 L129.30,575.93 L130.00,575.61 L130.70,575.30 L131.40,574.98 L132.10,574.66 L132.80,574.35 L133.50,574.03 L134.20,573.72 L134.90,573.40 L135.60,573.09 L136.30,572.77 L137.00,572.46 L137.70,572.15 L138.40,571.83 L139.10,571.52 L139.80,571.20 L140.50,570.89 L141.20,570.57 L141.90,570.26 L142.60,569.94 L143.30,569.63 L144.00,569.31 L144.70,568.99 L145.40,568.68 L146.10,568.36 L146.80,568.04 L147.50,567.72 L148.20,567.41 L148.90,567.09 L149.60,566.77 L150.30,566.44 L151.00,566.12 L151.70,565.80 L152.40,565.48 L153.10,565.15 L153.80,564.83 L154.50,564.50 L155.20,564.17 L155.90,563.84 L156.60,563.51 L157.30,563.18 L158.00,562.85 L158.70,562.52 L159.40,562.18 L160.10,561.85 L160.80,561.51 L161.50,561.17 L162.20,560.83 L162.90,560.49 L163.60,560.15 L164.30,559.80 L165.00,559.46 L165.70,559.11 L166.40,558.76 L167.10,558.42 L167.80,558.07 L168.50,557.72 L169.20,557.38 L169.90,557.03 L170.60,556.68 L171.30,556.33 L172.00,555.99 L172.70,555.64 L173.40,555.30 L174.10,554.95 L174.80,554.61 L175.50,554.27 L176.20,553.93 L176.90,553.59 L177.60,553.26 L178.30,552.92 L179.00,552.59 L179.70,552.26 L180.40,551.93 L181.10,551.61 L181.80,551.28 L182.50,550.96 L183.20,550.65 L183.90,550.33 L184.60,550.02 L185.30,549.71 L186.00,549.41 L186.70,549.11 L187.40,548.81 L188.10,548.51 L188.80,548.22 L189.50,547.93 L190.20,547.65 L190.90,547.36 L191.60,547.08 L192.30,546.80 L193.00,546.53 L193.70,546.25 L194.40,545.98 L195.10,545.71 L195.80,545.45 L196.50,545.18 L197.20,544.92 L197.90,544.65 L198.60,544.39 L199.30,544.13 L200.00,543.87 L200.70,543.62 L201.40,543.36 L202.10,543.11 L202.80,542.85 L203.50,542.60 L204.20,542.35 L204.90,542.09 L205.60,541.84 L206.30,541.59 L207.00,541.34 L207.70,541.09 L208.40,540.84 L209.10,540.59 L209.80,540.34 L210.50,540.09 L211.20,539.83 L211.90,539.58 L212.60,539.33 L213.30,539.08 L214.00,538.82 L214.70,538.57 L215.40,538.31 L216.10,538.05 L216.80,537.80 L217.50,537.54 L218.20,537.28 L218.90,537.01 L219.60,536.75 L220.30,536.48 L221.00,536.22 L221.70,535.95 L222.40,535.68 L223.10,535.40 L223.80,535.13 L224.50,534.85 L225.20,534.57 L225.90,534.28 L226.60,534.00 L227.30,533.71 L228.00,533.42 L228.70,533.12 L229.40,532.83 L230.10,532.52 L230.80,532.22 L231.50,531.91 L232.20,531.60 L232.90,531.29 L233.60,530.97 L234.30,530.66 L235.00,530.33 L235.70,530.01 L236.40,529.68 L237.10,529.35 L237.80,529.02 L238.50,528.69 L239.20,528.35 L239.90,528.01 L240.60,527.67 L241.30,527.33 L242.00,526.99 L242.70,526.64 L243.40,526.29 L244.10,525.94 L244.80,525.59 L245.50,525.24 L246.20,524.89 L246.90,524.53 L247.60,524.18 L248.30,523.82 L249.00,523.46 L249.70,523.10 L250.40,522.74 L251.10,522.38 L251.80,522.02 L252.50,521.66 L253.20,521.30 L253.90,520.94 L254.60,520.57 L255.30,520.21 L256.00,519.85 L256.70,519.48 L257.40,519.12 L258.10,518.76 L258.80,518.39 L259.50,518.03 L260.20,517.67 L260.90,517.31 L261.60,516.95 L262.30,516.59 L263.00,516.23 L263.70,515.87 L264.40,515.51 L265.10,515.15 L265.80,514.80 L266.50,514.44 L267.20,514.09 L267.90,513.74 L268.60,513.39 L269.30,513.04 L270.00,512.69 L270.70,512.35 L271.40,512.00 L272.10,511.66 L272.80,511.32 L273.50,510.98 L274.20,510.65 L274.90,510.31 L275.60,509.98 L276.30,509.65 L277.00,509.33 L277.70,509.00 L278.40,508.68 L279.10,508.37 L279.80,508.05 L280.50,507.74 L281.20,507.43 L281.90,507.12 L282.60,506.82 L283.30,506.52 L284.00,506.22 L284.70,505.93 L285.40,505.64 L286.10,505.35 L286.80,505.07 L287.50,504.79 L288.20,504.52 L288.90,504.25 L289.60,503.98 L290.30,503.72 L291.00,503.46 L291.70,503.20 L292.40,502.95 L293.10,502.70 L293.80,502.46 L294.50,502.22 L295.20,501.98 L295.90,501.74 L296.60,501.51 L297.30,501.28 L298.00,501.06 L298.70,500.84 L299.40,500.62 L300.10,500.40 L300.80,500.19 L301.50,499.98 L302.20,499.77 L302.90,499.56 L303.60,499.36 L304.30,499.16 L305.00,498.96 L305.70,498.76 L306.40,498.56 L307.10,498.37 L307.80,498.18 L308.50,497.99 L309.20,497.80 L309.90,497.62 L310.60,497.43 L311.30,497.25 L312.00,497.07 L312.70,496.89 L313.40,496.71 L314.10,496.54 L314.80,496.36 L315.50,496.19 L316.20,496.01 L316.90,495.84 L317.60,495.67 L318.30,495.50 L319.00,495.33 L319.70,495.16 L320.40,494.99 L321.10,494.82 L321.80,494.66 L322.50,494.49 L323.20,494.32 L323.90,494.16 L324.60,493.99 L325.30,493.82 L326.00,493.66 L326.70,493.49 L327.40,493.32 L328.10,493.15 L328.80,492.99 L329.50,492.82 L330.20,492.65 L330.90,492.48 L331.60,492.31 L332.30,492.14 L333.00,491.97 L333.70,491.80 L334.40,491.63 L335.10,491.45 L335.80,491.28 L336.50,491.10 L337.20,490.93 L337.90,490.75 L338.60,490.57 L339.30,490.39 L340.00,490.21 L340.70,490.02 L341.40,489.84 L342.10,489.65 L342.80,489.46 L343.50,489.27 L344.20,489.08 L344.90,488.89 L345.60,488.70 L346.30,488.50 L347.00,488.31 L347.70,488.11 L348.40,487.91 L349.10,487.71 L349.80,487.50 L350.50,487.30 L351.20,487.09 L351.90,486.88 L352.60,486.67 L353.30,486.45 L354.00,486.24 L354.70,486.02 L355.40,485.80 L356.10,485.58 L356.80,485.36 L357.50,485.13 L358.20,484.90 L358.90,484.67 L359.60,484.44 L360.30,484.21 L361.00,483.97 L361.70,483.73 L362.40,483.49 L363.10,483.26 L363.80,483.02 L364.50,482.78 L365.20,482.54 L365.90,482.30 L366.60,482.07 L367.30,481.83 L368.00,481.60 L368.70,481.36 L369.40,481.13 L370.10,480.90 L370.80,480.68 L371.50,480.46 L372.20,480.24 L372.90,480.02 L373.60,479.81 L374.30,479.60 L375.00,479.40 L375.70,479.20 L376.40,479.01 L377.10,478.82 L377.80,478.64 L378.50,478.46 L379.20,478.29 L379.90,478.13 L380.60,477.97 L381.30,477.82 L382.00,477.67 L382.70,477.53 L383.40,477.39 L384.10,477.26 L384.80,477.12 L385.50,476.99 L386.20,476.85 L386.90,476.72 L387.60,476.58 L388.30,476.43 L389.00,476.29 L389.70,476.14 L390.40,475.98 L391.10,475.81 L391.80,475.64 L392.50,475.46 L393.20,475.27 L393.90,475.07 L394.60,474.87 L395.30,474.65 L396.00,474.44 L396.70,474.21 L397.40,473.98 L398.10,473.74 L398.80,473.50 L399.50,473.25 L400.20,473.00 L400.90,472.74 L401.60,472.48 L402.30,472.22 L403.00,471.95 L403.70,471.68 L404.40,471.41 L405.10,471.14 L405.80,470.86 L406.50,470.58 L407.20,470.30 L407.90,470.01 L408.60,469.72 L409.30,469.43 L410.00,469.13 L410.70,468.83 L411.40,468.53 L412.10,468.22 L412.80,467.90 L413.50,467.58 L414.20,467.26 L414.90,466.93 L415.60,466.59 L416.30,466.25 L417.00,465.91 L417.70,465.56 L418.40,465.20 L419.10,464.84 L419.80,464.47 L420.50,464.09 L421.20,463.71 L421.90,463.32 L422.60,462.92 L423.30,462.52 L424.00,462.10 L424.70,461.69 L425.40,461.26 L426.10,460.82 L426.80,460.38 L427.50,459.93 L428.20,459.47 L428.90,459.00 L429.60,458.52 L430.30,458.04 L431.00,457.54 L431.70,457.04 L432.40,456.52 L433.10,456.00 L433.80,455.48 L434.50,454.94 L435.20,454.41 L435.90,453.88 L436.60,453.34 L437.30,452.81 L438.00,452.29 L438.70,451.77 L439.40,451.26 L440.10,450.76 L440.80,450.28 L441.50,449.80 L442.20,449.35 L442.90,448.91 L443.60,448.49 L444.30,448.09 L445.00,447.71 L445.70,447.34 L446.40,446.99 L447.10,446.65 L447.80,446.32 L448.50,446.00 L449.20,445.69 L449.90,445.38 L450.60,445.07 L451.30,444.76 L452.00,444.44 L452.70,444.13 L453.40,443.81 L454.10,443.47 L454.80,443.13 L455.50,442.78 L456.20,442.41 L456.90,442.03 L457.60,441.64 L458.30,441.24 L459.00,440.82 L459.70,440.40 L460.40,439.96 L461.10,439.52 L461.80,439.06 L462.50,438.60 L463.20,438.12 L463.90,437.64 L464.60,437.16 L465.30,436.66 L466.00,436.16 L466.70,435.65 L467.40,435.14 L468.10,434.62 L468.80,434.09 L469.50,433.56 L470.20,433.03 L470.90,432.49 L471.60,431.95 L472.30,431.41 L473.00,430.86 L473.70,430.31 L474.40,429.76 L475.10,429.21 L475.80,428.66 L476.50,428.10 L477.20,427.55 L477.90,427.00 L478.60,426.45 L479.30,425.90 L480.00,425.35 L480.70,424.79 L481.40,424.24 L482.10,423.67 L482.80,423.10 L483.50,422.53 L484.20,421.94 L484.90,421.34 L485.60,420.73 L486.30,420.10 L487.00,419.46 L487.70,418.80 L488.40,418.12 L489.10,417.42 L489.80,416.70 L490.50,415.95 L491.20,415.18 L491.90,414.39 L492.60,413.56 L493.30,412.71 L494.00,411.84 L494.70,410.95 L495.40,410.03 L496.10,409.10 L496.80,408.15 L497.50,407.19 L498.20,406.22 L498.90,405.23 L499.60,404.24 L500.30,403.24 L501.00,402.24 L501.70,401.23 L502.40,400.23 L503.10,399.22 L503.80,398.22 L504.50,397.23 L505.20,396.27 L505.90,395.36 L506.60,394.53 L507.30,393.77 L508.00,393.13 L508.70,392.60 L509.40,392.22 L510.10,392.00 L510.80,391.95 L511.50,392.10 L512.20,392.46 L512.90,393.06 L513.60,393.88 L514.30,394.92 L515.00,396.12 L515.70,397.47 L516.40,398.93 L517.10,400.46 L517.80,402.05 L518.50,403.65 L519.20,405.25 L519.90,406.83 L520.60,408.41 L521.30,409.98 L522.00,411.54 L522.70,413.10 L523.40,414.66 L524.10,416.23 L524.80,417.80 L525.50,419.38 L526.20,420.97 L526.90,422.57 L527.60,424.18 L528.30,425.80 L529.00,427.41 L529.70,429.00 L530.40,430.57 L531.10,432.11 L531.80,433.61 L532.50,435.06 L533.20,436.45 L533.90,437.77 L534.60,439.02 L535.30,440.20 L536.00,441.30 L536.70,442.35 L537.40,443.33 L538.10,444.24 L538.80,445.10 L539.50,445.90 L540.20,446.64 L540.90,447.33 L541.60,447.97 L542.30,448.56 L543.00,449.11 L543.70,449.61 L544.40,450.07 L545.10,450.48 L545.80,450.86 L546.50,451.21 L547.20,451.52 L547.90,451.80 L548.60,452.06 L549.30,452.28 L550.00,452.48 L550.70,452.66 L551.40,452.82 L552.10,452.97 L552.80,453.10 L553.50,453.21 L554.20,453.31 L554.90,453.41 L555.60,453.50 L556.30,453.58 L557.00,453.66 L557.70,453.74 L558.40,453.81 L559.10,453.89 L559.80,453.96 L560.50,454.02 L561.20,454.08 L561.90,454.14 L562.60,454.20 L563.30,454.26 L564.00,454.31 L564.70,454.36 L565.40,454.41 L566.10,454.45 L566.80,454.49 L567.50,454.53 L568.20,454.57 L568.90,454.60 L569.60,454.64 L570.30,454.67 L571.00,454.70 L571.70,454.72 L572.40,454.75 L573.10,454.77 L573.80,454.79 L574.50,454.81 L575.20,454.83 L575.90,454.84 L576.60,454.86 L577.30,454.87 L578.00,454.88 L578.70,454.89 L579.40,454.90 L580.10,454.90 L580.80,454.91 L581.50,454.91 L582.20,454.91 L582.90,454.92 L583.60,454.92 L584.30,454.92 L585.00,454.91 L585.70,454.91 L586.40,454.91 L587.10,454.90 L587.80,454.90 L588.50,454.89 L589.20,454.88 L589.90,454.88 L590.60,454.87 L591.30,454.86 L592.00,454.85 L592.70,454.84 L593.40,454.83 L594.10,454.82 L594.80,454.81 L595.50,454.80 L596.20,454.79 L596.90,454.78 L597.60,454.77 L598.30,454.76 L599.00,454.75 L599.70,454.74 L600.40,454.73 L601.10,454.71 L601.80,454.70 L602.50,454.70 L603.20,454.69 L603.90,454.68 L604.60,454.67 L605.30,454.66 L606.00,454.65 L606.70,454.65 L607.40,454.64 L608.10,454.64 L608.80,454.63 L609.50,454.63 L610.20,454.63 L610.90,454.63 L611.60,454.63 L612.30,454.63 L613.00,454.63 L613.70,454.63 L614.40,454.64 L615.10,454.64 L615.80,454.65 L616.50,454.66 L617.20,454.67 L617.90,454.68 L618.60,454.70 L619.30,454.71 L620.00,454.73 L620.70,454.75 L621.40,454.77 L622.10,454.79 L622.80,454.81 L623.50,454.84 L624.20,454.87 L624.90,454.90 L625.60,454.93 L626.30,454.96 L627.00,455.00 L627.50,455.03" fill="none" stroke="#3030f0" stroke-width="1.3" stroke-linejoin="round" stroke-linecap="round"/>
<path d="M73.30,596.26 L74.00,596.63 L74.70,596.95 L75.40,597.23 L76.10,597.47 L76.80,597.67 L77.50,597.83 L78.20,597.96 L78.90,598.04 L79.60,598.10 L80.30,598.12 L81.00,598.11 L81.70,598.07 L82.40,597.99 L83.10,597.90 L83.80,597.77 L84.50,597.62 L85.20,597.44 L85.90,597.24 L86.60,597.02 L87.30,596.78 L88.00,596.52 L88.70,596.24 L89.40,595.95 L90.10,595.64 L90.80,595.32 L91.50,594.98 L92.20,594.63 L92.90,594.28 L93.60,593.91 L94.30,593.54 L95.00,593.16 L95.70,592.77 L96.40,592.38 L97.10,591.99 L97.80,591.60 L98.50,591.21 L99.20,590.82 L99.90,590.43 L100.60,590.04 L101.30,589.66 L102.00,589.28 L102.70,588.90 L103.40,588.53 L104.10,588.15 L104.80,587.78 L105.50,587.41 L106.20,587.05 L106.90,586.68 L107.60,586.32 L108.30,585.96 L109.00,585.61 L109.70,585.25 L110.40,584.90 L111.10,584.55 L111.80,584.20 L112.50,583.85 L113.20,583.50 L113.90,583.16 L114.60,582.82 L115.30,582.48 L116.00,582.14 L116.70,581.80 L117.40,581.46 L118.10,581.13 L118.80,580.80 L119.50,580.46 L120.20,580.13 L120.90,579.81 L121.60,579.48 L122.30,579.15 L123.00,578.82 L123.70,578.50 L124.40,578.18 L125.10,577.85 L125.80,577.53 L126.50,577.21 L127.20,576.89 L127.90,576.57 L128.60,576.25 L129.30,575.93 L130.00,575.61 L130.70,575.30 L131.40,574.98 L132.10,574.66 L132.80,574.35 L133.50,574.03 L134.20,573.72 L134.90,573.40 L135.60,573.09 L136.30,572.77 L137.00,572.46 L137.70,572.15 L138.40,571.83 L139.10,571.52 L139.80,571.20 L140.50,570.89 L141.20,570.57 L141.90,570.26 L142.60,569.94 L143.30,569.63 L144.00,569.31 L144.70,568.99 L145.40,568.68 L146.10,568.36 L146.80,568.04 L147.50,567.72 L148.20,567.41 L148.90,567.09 L149.60,566.77 L150.30,566.44 L151.00,566.12 L151.70,565.80 L152.40,565.48 L153.10,565.15 L153.80,564.83 L154.50,564.50 L155.20,564.17 L155.90,563.84 L156.60,563.51 L157.30,563.18 L158.00,562.85 L158.70,562.52 L159.40,562.18 L160.10,561.85 L160.80,561.51 L161.50,561.17 L162.20,560.83 L162.90,560.49 L163.60,560.15 L164.30,559.80 L165.00,559.46 L165.70,559.11 L166.40,558.76 L167.10,558.42 L167.80,558.07 L168.50,557.72 L169.20,557.38 L169.90,557.03 L170.60,556.68 L171.30,556.33 L172.00,555.99 L172.70,555.64 L173.40,555.30 L174.10,554.95 L174.80,554.61 L175.50,554.27 L176.20,553.93 L176.90,553.59 L177.60,553.26 L178.30,552.92 L179.00,552.59 L179.70,552.26 L180.40,551.93 L181.10,551.61 L181.80,551.28 L182.50,550.96 L183.20,550.65 L183.90,550.33 L184.60,550.02 L185.30,549.71 L186.00,549.41 L186.70,549.11 L187.40,548.81 L188.10,548.51 L188.80,548.22 L189.50,547.93 L190.20,547.65 L190.90,547.36 L191.60,547.08 L192.30,546.80 L193.00,546.53 L193.70,546.25 L194.40,545.98 L195.10,545.71 L195.80,545.45 L196.50,545.18 L197.20,544.92 L197.90,544.65 L198.60,544.39 L199.30,544.13 L200.00,543.87 L200.70,543.62 L201.40,543.36 L202.10,543.11 L202.80,542.85 L203.50,542.60 L204.20,542.35 L204.90,542.09 L205.60,541.84 L206.30,541.59 L207.00,541.34 L207.70,541.09 L208.40,540.84 L209.10,540.59 L209.80,540.34 L210.50,540.09 L211.20,539.83 L211.90,539.58 L212.60,539.33 L213.30,539.08 L214.00,538.82 L214.70,538.57 L215.40,538.31 L216.10,538.05 L216.80,537.80 L217.50,537.54 L218.20,537.28 L218.90,537.01 L219.60,536.75 L220.30,536.48 L221.00,536.22 L221.70,535.95 L222.40,535.68 L223.10,535.40 L223.80,535.13 L224.50,534.85 L225.20,534.57 L225.90,534.28 L226.60,534.00 L227.30,533.71 L228.00,533.42 L228.70,533.12 L229.40,532.83 L230.10,532.52 L230.80,532.22 L231.50,531.91 L232.20,531.60 L232.90,531.29 L233.60,530.97 L234.30,530.66 L235.00,530.33 L235.70,530.01 L236.40,529.68 L237.10,529.35 L237.80,529.02 L238.50,528.69 L239.20,528.35 L239.90,528.01 L240.60,527.67 L241.30,527.33 L242.00,526.99 L242.70,526.64 L243.40,526.29 L244.10,525.94 L244.80,525.59 L245.50,525.24 L246.20,524.89 L246.90,524.53 L247.60,524.18 L248.30,523.82 L249.00,523.46 L249.70,523.10 L250.40,522.74 L251.10,522.38 L251.80,522.02 L252.50,521.66 L253.20,521.30 L253.90,520.94 L254.60,520.57 L255.30,520.21 L256.00,519.85 L256.70,519.48 L257.40,519.12 L258.10,518.76 L258.80,518.39 L259.50,518.03 L260.20,517.67 L260.90,517.31 L261.60,516.95 L262.30,516.59 L263.00,516.23 L263.70,515.87 L264.40,515.51 L265.10,515.15 L265.80,514.80 L266.50,514.44 L267.20,514.09 L267.90,513.74 L268.60,513.39 L269.30,513.04 L270.00,512.69 L270.70,512.35 L271.40,512.00 L272.10,511.66 L272.80,511.32 L273.50,510.98 L274.20,510.65 L274.90,510.31 L275.60,509.98 L276.30,509.65 L277.00,509.33 L277.70,509.00 L278.40,508.68 L279.10,508.37 L279.80,508.05 L280.50,507.74 L281.20,507.43 L281.90,507.12 L282.60,506.82 L283.30,506.52 L284.00,506.22 L284.70,505.93 L285.40,505.64 L286.10,505.35 L286.80,505.07 L287.50,504.79 L288.20,504.52 L288.90,504.25 L289.60,503.98 L290.30,503.72 L291.00,503.46 L291.70,503.20 L292.40,502.95 L293.10,502.70 L293.80,502.46 L294.50,502.22 L295.20,501.98 L295.90,501.74 L296.60,501.51 L297.30,501.28 L298.00,501.06 L298.70,500.84 L299.40,500.62 L300.10,500.40 L300.80,500.19 L301.50,499.98 L302.20,499.77 L302.90,499.56 L303.60,499.36 L304.30,499.16 L305.00,498.96 L305.70,498.76 L306.40,498.56 L307.10,498.37 L307.80,498.18 L308.50,497.99 L309.20,497.80 L309.90,497.62 L310.60,497.43 L311.30,497.25 L312.00,497.07 L312.70,496.89 L313.40,496.71 L314.10,496.54 L314.80,496.36 L315.50,496.19 L316.20,496.01 L316.90,495.84 L317.60,495.67 L318.30,495.50 L319.00,495.33 L319.70,495.16 L320.40,494.99 L321.10,494.82 L321.80,494.66 L322.50,494.49 L323.20,494.32 L323.90,494.16 L324.60,493.99 L325.30,493.82 L326.00,493.66 L326.70,493.49 L327.40,493.32 L328.10,493.15 L328.80,492.99 L329.50,492.82 L330.20,492.65 L330.90,492.48 L331.60,492.31 L332.30,492.14 L333.00,491.97 L333.70,491.80 L334.40,491.63 L335.10,491.45 L335.80,491.28 L336.50,491.10 L337.20,490.93 L337.90,490.75 L338.60,490.57 L339.30,490.39 L340.00,490.21 L340.70,490.02 L341.40,489.84 L342.10,489.65 L342.80,489.46 L343.50,489.27 L344.20,489.08 L344.90,488.89 L345.60,488.70 L346.30,488.50 L347.00,488.31 L347.70,488.11 L348.40,487.91 L349.10,487.71 L349.80,487.50 L350.50,487.30 L351.20,487.09 L351.90,486.88 L352.60,486.67 L353.30,486.45 L354.00,486.24 L354.70,486.02 L355.40,485.80 L356.10,485.58 L356.80,485.36 L357.50,485.13 L358.20,484.90 L358.90,484.67 L359.60,484.44 L360.30,484.21 L361.00,483.97 L361.70,483.73 L362.40,483.49 L363.10,483.26 L363.80,483.02 L364.50,482.78 L365.20,482.54 L365.90,482.30 L366.60,482.07 L367.30,481.83 L368.00,481.60 L368.70,481.36 L369.40,481.13 L370.10,480.90 L370.80,480.68 L371.50,480.46 L372.20,480.24 L372.90,480.02 L373.60,479.81 L374.30,479.60 L375.00,479.40 L375.70,479.20 L376.40,479.01 L377.10,478.82 L377.80,478.64 L378.50,478.46 L379.20,478.29 L379.90,478.13 L380.60,477.97 L381.30,477.82 L382.00,477.67 L382.70,477.53 L383.40,477.39 L384.10,477.26 L384.80,477.12 L385.50,476.99 L386.20,476.85 L386.90,476.72 L387.60,476.58 L388.30,476.43 L389.00,476.29 L389.70,476.14 L390.40,475.98 L391.10,475.81 L391.80,475.64 L392.50,475.46 L393.20,475.27 L393.90,475.07 L394.60,474.87 L395.30,474.65 L396.00,474.44 L396.70,474.21 L397.40,473.98 L398.10,473.74 L398.80,473.50 L399.50,473.25 L400.20,473.00 L400.90,472.74 L401.60,472.48 L402.30,472.22 L403.00,471.95 L403.70,471.68 L404.40,471.41 L405.10,471.14 L405.80,470.86 L406.50,470.58 L407.20,470.30 L407.90,470.01 L408.60,469.72 L409.30,469.43 L410.00,469.13 L410.70,468.83 L411.40,468.53 L412.10,468.22 L412.80,467.90 L413.50,467.58 L414.20,467.26 L414.90,466.93 L415.60,466.59 L416.30,466.25 L417.00,465.91 L417.70,465.56 L418.40,465.20 L419.10,464.84 L419.80,464.47 L420.50,464.09 L421.20,463.71 L421.90,463.32 L422.60,462.92 L423.30,462.52 L424.00,462.10 L424.70,461.69 L425.40,461.26 L426.10,460.82 L426.80,460.38 L427.50,459.93 L428.20,459.47 L428.90,459.00 L429.60,458.52 L430.30,458.04 L431.00,457.54 L431.70,457.04 L432.40,456.52 L433.10,456.00 L433.80,455.48 L434.50,454.94 L435.20,454.41 L435.90,453.88 L436.60,453.34 L437.30,452.81 L438.00,452.29 L438.70,451.77 L439.40,451.26 L440.10,450.76 L440.80,450.28 L441.50,449.80 L442.20,449.35 L442.90,448.91 L443.60,448.49 L444.30,448.09 L445.00,447.71 L445.70,447.34 L446.40,446.99 L447.10,446.65 L447.80,446.32 L448.50,446.00 L449.20,445.69 L449.90,445.38 L450.60,445.07 L451.30,444.76 L452.00,444.44 L452.70,444.13 L453.40,443.81 L454.10,443.47 L454.80,443.13 L455.50,442.78 L456.20,442.41 L456.90,442.03 L457.60,441.64 L458.30,441.24 L459.00,440.82 L459.70,440.40 L460.40,439.96 L461.10,439.52 L461.80,439.06 L462.50,438.60 L463.20,438.12 L463.90,437.64 L464.60,437.16 L465.30,436.66 L466.00,436.16 L466.70,435.65 L467.40,435.14 L468.10,434.62 L468.80,434.09 L469.50,433.56 L470.20,433.03 L470.90,432.49 L471.60,431.95 L472.30,431.41 L473.00,430.86 L473.70,430.31 L474.40,429.76 L475.10,429.21 L475.80,428.66 L476.50,428.10 L477.20,427.55 L477.90,427.00 L478.60,426.45 L479.30,425.90 L480.00,425.35 L480.70,424.79 L481.40,424.24 L482.10,423.67 L482.80,423.10 L483.50,422.53 L484.20,421.94 L484.90,421.34 L485.60,420.73 L486.30,420.10 L487.00,419.46 L487.70,418.80 L488.40,418.12 L489.10,417.42 L489.80,416.70 L490.50,415.95 L491.20,415.18 L491.90,414.39 L492.60,413.56 L493.30,412.71 L494.00,411.84 L494.70,410.95 L495.40,410.03 L496.10,409.10 L496.80,408.15 L497.50,407.19 L498.20,406.22 L498.90,405.23 L499.60,404.24 L500.30,403.24 L501.00,402.24 L501.70,401.23 L502.40,400.23 L503.10,399.22 L503.80,398.22 L504.50,397.23 L505.20,396.27 L505.90,395.36 L506.60,394.53 L507.30,393.77 L508.00,393.13 L508.70,392.60 L509.40,392.22 L510.10,392.00 L510.80,391.95 L511.50,392.10 L512.20,392.46 L512.90,393.06 L513.60,393.88 L514.30,394.92 L515.00,396.12 L515.70,397.47 L516.40,398.93 L517.10,400.46 L517.80,402.05 L518.50,403.65 L519.20,405.25 L519.90,406.83 L520.60,408.41 L521.30,409.98 L522.00,411.54 L522.70,413.10 L523.40,414.66 L524.10,416.23 L524.80,417.80 L525.50,419.38 L526.20,420.97 L526.90,422.57 L527.60,424.18 L528.30,425.80 L529.00,427.41 L529.70,429.00 L530.40,430.57 L531.10,432.11 L531.80,433.61 L532.50,435.06 L533.20,436.45 L533.90,437.77 L534.60,439.02 L535.30,440.20 L536.00,441.30 L536.70,442.35 L537.40,443.33 L538.10,444.24 L538.80,445.10 L539.50,445.90 L540.20,446.64 L540.90,447.33 L541.60,447.97 L542.30,448.56 L543.00,449.11 L543.70,449.61 L544.40,450.07 L545.10,450.48 L545.80,450.86 L546.50,451.21 L547.20,451.52 L547.90,451.80 L548.60,452.06 L549.30,452.28 L550.00,452.48 L550.70,452.66 L551.40,452.82 L552.10,452.97 L552.80,453.10 L553.50,453.21 L554.20,453.31 L554.90,453.41 L555.60,453.50 L556.30,453.58 L557.00,453.66 L557.70,453.74 L558.40,453.81 L559.10,453.89 L559.80,453.96 L560.50,454.02 L561.20,454.08 L561.90,454.14 L562.60,454.20 L563.30,454.26 L564.00,454.31 L564.70,454.36 L565.40,454.41 L566.10,454.45 L566.80,454.49 L567.50,454.53 L568.20,454.57 L568.90,454.60 L569.60,454.64 L570.30,454.67 L571.00,454.70 L571.70,454.72 L572.40,454.75 L573.10,454.77 L573.80,454.79 L574.50,454.81 L575.20,454.83 L575.90,454.84 L576.60,454.86 L577.30,454.87 L578.00,454.88 L578.70,454.89 L579.40,454.90 L580.10,454.90 L580.80,454.91 L581.50,454.91 L582.20,454.91 L582.90,454.92 L583.60,454.92 L584.30,454.92 L585.00,454.91 L585.70,454.91 L586.40,454.91 L587.10,454.90 L587.80,454.90 L588.50,454.89 L589.20,454.88 L589.90,454.88 L590.60,454.87 L591.30,454.86 L592.00,454.85 L592.70,454.84 L593.40,454.83 L594.10,454.82 L594.80,454.81 L595.50,454.80 L596.20,454.79 L596.90,454.78 L597.60,454.77 L598.30,454.76 L599.00,454.75 L599.70,454.74 L600.40,454.73 L601.10,454.71 L601.80,454.70 L602.50,454.70 L603.20,454.69 L603.90,454.68 L604.60,454.67 L605.30,454.66 L606.00,454.65 L606.70,454.65 L607.40,454.64 L608.10,454.64 L608.80,454.63 L609.50,454.63 L610.20,454.63 L610.90,454.63 L611.60,454.63 L612.30,454.63 L613.00,454.63 L613.70,454.63 L614.40,454.64 L615.10,454.64 L615.80,454.65 L616.50,454.66 L617.20,454.67 L617.90,454.68 L618.60,454.70 L619.30,454.71 L620.00,454.73 L620.70,454.75 L621.40,454.77 L622.10,454.79 L622.80,454.81 L623.50,454.84 L624.20,454.87 L624.90,454.90 L625.60,454.93 L626.30,454.96 L627.00,455.00 L627.50,455.03" fill="none" stroke="#141460" stroke-width="1.3" stroke-linejoin="round" stroke-dasharray="1.2,2.6" stroke-linecap="butt" stroke-opacity="0.75"/>
<line x1="84.10" y1="688.80" x2="84.10" y2="899.00" stroke="#333333" stroke-width="1.7"/>
<line x1="83.30" y1="898.20" x2="641.30" y2="898.20" stroke="#333333" stroke-width="1.7"/>
<text x="81.0" y="693.3" font-size="11.5" fill="#1e1e1e" text-anchor="end" >52.4</text>
<text x="77.6" y="733.5" font-size="11.5" fill="#1e1e1e" text-anchor="end" >45</text>
<text x="79.6" y="790.6" font-size="11.5" fill="#1e1e1e" text-anchor="end" >35</text>
<text x="80.3" y="845.0" font-size="11.5" fill="#1e1e1e" text-anchor="end" >25</text>
<text x="80.7" y="898.0" font-size="11.5" fill="#1e1e1e" text-anchor="end" >15</text>
<text transform="translate(41.3,765.2) scale(1,1.15)" font-size="12.8" fill="#1e1e1e">%T</text>
<text x="83.3" y="911.7" font-size="11.5" fill="#1e1e1e" text-anchor="middle" >4000</text>
<text x="169.4" y="911.7" font-size="11.5" fill="#1e1e1e" text-anchor="middle" >3200</text>
<text x="247.3" y="911.7" font-size="11.5" fill="#1e1e1e" text-anchor="middle" >2400</text>
<text x="329.6" y="911.7" font-size="11.5" fill="#1e1e1e" text-anchor="middle" >1800</text>
<text x="408.5" y="911.7" font-size="11.5" fill="#1e1e1e" text-anchor="middle" >1400</text>
<text x="487.0" y="911.7" font-size="11.5" fill="#1e1e1e" text-anchor="middle" >1000</text>
<text x="568.4" y="911.7" font-size="11.5" fill="#1e1e1e" text-anchor="middle" >600</text>
<text x="630.6" y="911.7" font-size="11.5" fill="#1e1e1e" text-anchor="start" >225 .0</text>
<text x="380.8" y="931.5" font-size="14.2" fill="#1e1e1e" text-anchor="middle" >cm-1</text>
<text x="0.9" y="699.8" font-size="24.8" fill="#000" text-anchor="start" >C</text>
<path d="M84.60,692.35 C84.70,692.42 85.00,692.51 85.20,692.77 C85.40,693.03 85.60,693.77 85.80,693.92 C86.00,694.07 86.20,693.83 86.40,693.67 C86.60,693.50 86.80,692.93 87.00,692.93 C87.20,692.93 87.40,693.52 87.60,693.68 C87.80,693.84 88.00,693.94 88.20,693.90 C88.40,693.87 88.60,693.35 88.80,693.47 C89.00,693.59 89.20,694.61 89.40,694.64 C89.60,694.67 89.80,693.72 90.00,693.66 C90.20,693.60 90.40,694.12 90.60,694.29 C90.80,694.45 91.00,694.59 91.20,694.64 C91.40,694.70 91.60,694.55 91.80,694.62 C92.00,694.68 92.20,694.89 92.40,695.03 C92.60,695.16 92.80,695.27 93.00,695.43 C93.20,695.59 93.40,696.07 93.60,695.99 C93.80,695.91 94.00,694.98 94.20,694.94 C94.40,694.91 94.60,695.59 94.80,695.77 C95.00,695.95 95.20,696.07 95.40,696.02 C95.60,695.97 95.80,695.61 96.00,695.46 C96.20,695.31 96.40,694.77 96.60,695.10 C96.80,695.43 97.00,697.16 97.20,697.45 C97.40,697.74 97.60,696.83 97.80,696.84 C98.00,696.84 98.20,697.15 98.40,697.47 C98.60,697.78 98.80,698.69 99.00,698.71 C99.20,698.72 99.40,697.88 99.60,697.55 C99.80,697.23 100.00,696.89 100.20,696.75 C100.40,696.60 100.60,697.00 100.80,696.69 C101.00,696.38 101.20,695.06 101.40,694.91 C101.60,694.75 101.80,695.77 102.00,695.75 C102.20,695.73 102.40,695.09 102.60,694.78 C102.80,694.47 103.00,693.94 103.20,693.90 C103.40,693.86 103.60,694.43 103.80,694.55 C104.00,694.67 104.20,694.88 104.40,694.60 C104.60,694.31 104.80,693.08 105.00,692.84 C105.20,692.60 105.40,693.27 105.60,693.14 C105.80,693.02 106.00,692.21 106.20,692.09 C106.40,691.97 106.60,692.33 106.80,692.44 C107.00,692.54 107.20,692.77 107.40,692.72 C107.60,692.67 107.80,691.86 108.00,692.13 C108.20,692.41 108.40,693.72 108.60,694.36 C108.80,695.00 109.00,695.38 109.20,695.98 C109.40,696.58 109.60,697.58 109.80,697.96 C110.00,698.35 110.20,698.65 110.40,698.30 C110.60,697.94 110.80,696.44 111.00,695.83 C111.20,695.23 111.40,694.90 111.60,694.67 C111.80,694.44 112.00,694.79 112.20,694.45 C112.40,694.11 112.60,692.77 112.80,692.62 C113.00,692.47 113.20,693.59 113.40,693.53 C113.60,693.48 113.80,692.38 114.00,692.28 C114.20,692.18 114.40,692.82 114.60,692.95 C114.80,693.08 115.00,692.76 115.20,693.06 C115.40,693.37 115.60,694.48 115.80,694.77 C116.00,695.05 116.20,694.45 116.40,694.79 C116.60,695.12 116.80,696.48 117.00,696.80 C117.20,697.11 117.40,696.42 117.60,696.69 C117.80,696.96 118.00,697.77 118.20,698.40 C118.40,699.03 118.60,699.63 118.80,700.46 C119.00,701.28 119.20,702.51 119.40,703.33 C119.60,704.14 119.80,704.76 120.00,705.35 C120.20,705.94 120.40,706.19 120.60,706.87 C120.80,707.55 120.88,708.37 121.20,709.43 C121.52,710.49 121.70,709.59 122.50,713.20 C123.30,716.81 124.92,725.73 126.00,731.10 C127.08,736.47 127.82,740.30 129.00,745.40 C130.18,750.50 131.73,756.25 133.10,761.70 C134.47,767.15 135.83,773.32 137.20,778.10 C138.57,782.88 140.00,787.95 141.30,790.40 C142.60,792.85 143.47,792.73 145.00,792.80 C146.53,792.87 148.67,790.80 150.50,790.80 C152.33,790.80 154.13,793.55 156.00,792.80 C157.87,792.05 159.72,789.43 161.70,786.30 C163.68,783.17 165.85,777.58 167.90,774.00 C169.95,770.42 171.97,766.85 174.00,764.80 C176.03,762.75 178.33,763.40 180.10,761.70 C181.87,760.00 183.40,754.60 184.60,754.60 C185.80,754.60 186.52,759.48 187.30,761.70 C188.08,763.92 188.52,764.83 189.30,767.90 C190.08,770.97 191.22,779.77 192.00,780.10 C192.78,780.43 193.25,772.62 194.00,769.90 C194.75,767.18 195.75,764.13 196.50,763.80 C197.25,763.47 197.65,769.95 198.50,767.90 C199.35,765.85 199.88,755.42 201.60,751.50 C203.32,747.58 205.45,747.28 208.80,744.40 C212.15,741.52 217.60,736.95 221.70,734.20 C225.80,731.45 229.52,729.93 233.40,727.90 C237.28,725.87 242.57,723.40 245.00,722.00 C247.43,720.60 247.42,720.35 248.00,719.50 C248.58,718.65 248.30,716.48 248.50,716.90 C248.70,717.32 247.83,722.12 249.20,722.00 C250.57,721.88 253.50,717.83 256.70,716.20 C259.90,714.57 264.50,713.48 268.40,712.20 C272.30,710.92 276.20,709.78 280.10,708.50 C284.00,707.22 287.92,706.13 291.80,704.50 C295.68,702.87 299.52,700.53 303.40,698.70 C307.28,696.87 312.33,694.58 315.10,693.50 C317.87,692.42 318.38,692.42 320.00,692.20 C321.62,691.98 323.35,691.68 324.80,692.20 C326.25,692.72 327.52,693.85 328.70,695.30 C329.88,696.75 331.10,698.65 331.90,700.90 C332.70,703.15 332.97,705.35 333.50,708.80 C334.03,712.25 334.43,717.62 335.10,721.60 C335.77,725.58 336.57,729.00 337.50,732.70 C338.43,736.40 339.90,740.62 340.70,743.80 C341.50,746.98 341.78,747.82 342.30,751.80 C342.82,755.78 343.28,762.40 343.80,767.70 C344.32,773.00 344.73,778.30 345.40,783.60 C346.07,788.90 346.87,793.93 347.80,799.50 C348.73,805.07 349.93,812.37 351.00,817.00 C352.07,821.63 353.40,825.32 354.20,827.30 C355.00,829.28 355.13,829.30 355.80,828.90 C356.47,828.50 357.28,827.95 358.20,824.90 C359.12,821.85 360.25,815.90 361.30,810.60 C362.35,805.30 363.43,798.40 364.50,793.10 C365.57,787.80 366.85,781.45 367.70,778.80 C368.55,776.15 368.80,776.67 369.60,777.20 C370.40,777.73 371.50,779.35 372.50,782.00 C373.50,784.65 374.55,789.78 375.60,793.10 C376.65,796.42 377.87,800.18 378.80,801.90 C379.73,803.62 380.40,804.07 381.20,803.40 C382.00,802.73 382.80,800.93 383.60,797.90 C384.40,794.87 385.20,789.45 386.00,785.20 C386.80,780.95 387.73,775.05 388.40,772.40 C389.07,769.75 389.22,769.03 390.00,769.30 C390.78,769.57 392.05,773.62 393.10,774.00 C394.15,774.38 395.23,772.52 396.30,771.60 C397.37,770.68 398.43,768.37 399.50,768.50 C400.57,768.63 401.38,771.35 402.70,772.40 C404.02,773.45 406.08,775.32 407.40,774.80 C408.72,774.28 409.27,771.55 410.60,769.30 C411.93,767.05 413.73,762.98 415.40,761.30 C417.07,759.62 418.77,759.83 420.60,759.20 C422.43,758.57 424.27,756.80 426.40,757.50 C428.53,758.20 431.13,761.37 433.40,763.40 C435.67,765.43 437.58,770.02 440.00,769.70 C442.42,769.38 445.80,762.48 447.90,761.50 C450.00,760.52 451.03,763.95 452.60,763.80 C454.17,763.65 455.43,760.37 457.30,760.60 C459.17,760.83 461.75,763.57 463.80,765.20 C465.85,766.83 467.73,768.95 469.60,770.40 C471.47,771.85 473.23,773.90 475.00,773.90 C476.77,773.90 478.37,773.55 480.20,770.40 C482.03,767.25 483.85,759.55 486.00,755.00 C488.15,750.45 490.17,747.07 493.10,743.10 C496.03,739.13 500.32,735.15 503.60,731.20 C506.88,727.25 509.73,721.28 512.80,719.40 C515.87,717.52 518.70,719.55 522.00,719.90 C525.30,720.25 529.53,720.48 532.60,721.50 C535.67,722.52 538.22,723.63 540.40,726.00 C542.58,728.37 544.03,734.17 545.70,735.70 C547.37,737.23 549.30,735.50 550.40,735.20 C551.50,734.90 551.77,733.68 552.30,733.90 C552.83,734.12 551.72,735.50 553.60,736.50 C555.48,737.50 560.53,739.47 563.60,739.90 C566.67,740.33 569.38,739.23 572.00,739.10 C574.62,738.97 577.12,739.75 579.30,739.10 C581.48,738.45 582.82,737.17 585.10,735.20 C587.38,733.23 590.13,731.18 593.00,727.30 C595.87,723.42 600.75,714.40 602.30,711.90 C603.85,709.40 602.20,712.46 602.30,712.30 C602.40,712.15 602.70,711.26 602.90,710.95 C603.10,710.65 603.30,710.91 603.50,710.47 C603.70,710.02 603.90,708.64 604.10,708.27 C604.30,707.90 604.50,708.61 604.70,708.25 C604.90,707.88 605.10,706.42 605.30,706.10 C605.50,705.78 605.70,706.53 605.90,706.32 C606.10,706.11 606.30,705.24 606.50,704.83 C606.70,704.42 606.90,704.10 607.10,703.88 C607.30,703.67 607.50,703.80 607.70,703.54 C607.90,703.28 608.10,702.68 608.30,702.33 C608.50,701.97 608.70,701.92 608.90,701.41 C609.10,700.91 609.30,699.73 609.50,699.31 C609.70,698.90 609.90,699.14 610.10,698.90 C610.30,698.65 610.50,698.06 610.70,697.83 C610.90,697.61 611.10,697.67 611.30,697.55 C611.50,697.43 611.70,697.10 611.90,697.13 C612.10,697.15 612.30,697.88 612.50,697.70 C612.70,697.53 612.90,696.47 613.10,696.08 C613.30,695.69 613.50,695.61 613.70,695.37 C613.90,695.12 614.10,694.80 614.30,694.59 C614.50,694.37 614.70,694.27 614.90,694.07 C615.10,693.87 615.30,693.53 615.50,693.38 C615.70,693.24 615.90,693.32 616.10,693.20 C616.30,693.07 616.50,692.60 616.70,692.63 C616.90,692.67 617.10,693.18 617.30,693.39 C617.50,693.60 617.70,693.93 617.90,693.88 C618.10,693.82 618.30,692.99 618.50,693.06 C618.70,693.12 618.90,694.21 619.10,694.29 C619.30,694.36 619.50,693.62 619.70,693.50 C619.90,693.38 620.10,693.58 620.30,693.56 C620.50,693.55 620.70,693.48 620.90,693.40 C621.10,693.33 621.30,693.24 621.50,693.11 C621.70,692.99 621.90,692.71 622.10,692.65 C622.30,692.60 622.50,692.84 622.70,692.78 C622.90,692.73 623.10,692.28 623.30,692.30 C623.50,692.31 623.70,692.85 623.90,692.85 C624.10,692.86 624.30,692.37 624.50,692.35 C624.70,692.32 624.90,692.76 625.10,692.70 C625.30,692.63 625.50,692.16 625.70,691.97 C625.90,691.77 626.10,691.84 626.30,691.53 C626.50,691.22 626.70,690.44 626.90,690.10 C627.10,689.77 627.30,689.40 627.50,689.50 C627.70,689.61 627.90,690.54 628.10,690.73 C628.30,690.91 628.50,690.43 628.70,690.62 C628.90,690.81 629.10,691.62 629.30,691.89 C629.50,692.15 629.70,692.00 629.90,692.20 C630.10,692.40 630.30,692.61 630.50,693.07 C630.70,693.53 630.90,694.59 631.10,694.98 C631.30,695.36 631.50,695.10 631.70,695.39 C631.90,695.69 632.10,696.13 632.30,696.76 C632.50,697.39 632.62,697.60 632.90,699.16 C633.18,700.71 633.75,703.96 634.00,706.10 C634.25,708.24 634.33,709.48 634.40,712.00 C634.47,714.52 634.15,714.38 634.40,721.20 C634.65,728.02 635.40,742.32 635.90,752.90 C636.40,763.48 636.95,774.12 637.40,784.70 C637.85,795.28 638.15,805.83 638.60,816.40 C639.05,826.97 639.75,837.70 640.10,848.10 C640.45,858.50 640.60,873.68 640.70,878.80" fill="none" stroke="#2323f0" stroke-width="1.5" stroke-linejoin="round" stroke-linecap="round" />
<line x1="144.80" y1="792.70" x2="144.80" y2="821.90" stroke="#2323f0" stroke-width="1.3"/>
<text x="150.5" y="831.0" font-size="11.5" fill="#3b2cf0" text-anchor="middle" >3393.00</text>
<line x1="192.30" y1="782.00" x2="192.30" y2="799.70" stroke="#2323f0" stroke-width="1.3"/>
<text x="196.3" y="808.8" font-size="11.5" fill="#3b2cf0" text-anchor="middle" >2922.32</text>
<line x1="355.80" y1="828.90" x2="355.80" y2="844.10" stroke="#2323f0" stroke-width="1.3"/>
<text x="359.9" y="855.1" font-size="11.5" fill="#3b2cf0" text-anchor="middle" >1647.90</text>
<line x1="381.20" y1="803.40" x2="381.20" y2="818.40" stroke="#2323f0" stroke-width="1.3"/>
<text x="386.0" y="830.0" font-size="11.5" fill="#3b2cf0" text-anchor="middle" >1516.52</text>
<line x1="475.80" y1="773.90" x2="475.80" y2="790.20" stroke="#2323f0" stroke-width="1.3"/>
<text x="473.5" y="801.0" font-size="11.5" fill="#3b2cf0" text-anchor="middle" >1054.84</text>
<line x1="563.40" y1="739.90" x2="563.40" y2="756.20" stroke="#2323f0" stroke-width="1.3"/>
<text x="564.8" y="768.5" font-size="11.5" fill="#3b2cf0" text-anchor="middle" >616.65</text>
</svg></body></html>
